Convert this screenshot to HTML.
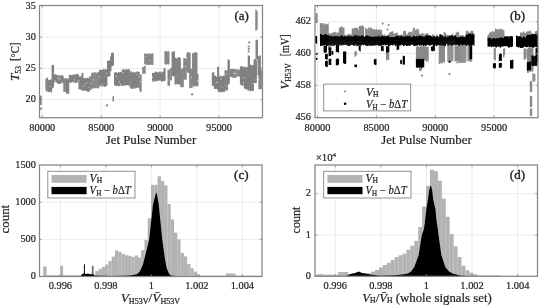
<!DOCTYPE html>
<html><head><meta charset="utf-8"><style>
html,body{margin:0;padding:0;background:#fff;}
svg{display:block;filter:blur(0.45px);}
text{font-family:"Liberation Serif",serif;fill:#222;stroke:#222;stroke-width:0.2px;}
</style></head><body>
<svg width="541" height="307" viewBox="0 0 541 307">
<rect width="541" height="307" fill="#fff"/>
<line x1="42.30" y1="5.50" x2="42.30" y2="117.70" stroke="#e6e6e6" stroke-width="0.8"/>
<line x1="101.25" y1="5.50" x2="101.25" y2="117.70" stroke="#e6e6e6" stroke-width="0.8"/>
<line x1="160.15" y1="5.50" x2="160.15" y2="117.70" stroke="#e6e6e6" stroke-width="0.8"/>
<line x1="219.00" y1="5.50" x2="219.00" y2="117.70" stroke="#e6e6e6" stroke-width="0.8"/>
<line x1="39.50" y1="37.20" x2="262.50" y2="37.20" stroke="#e6e6e6" stroke-width="0.8"/>
<line x1="39.50" y1="68.40" x2="262.50" y2="68.40" stroke="#e6e6e6" stroke-width="0.8"/>
<line x1="39.50" y1="99.60" x2="262.50" y2="99.60" stroke="#e6e6e6" stroke-width="0.8"/>
<rect x="39.60" y="95.58" width="1.45" height="9.29" fill="#808080"/>
<rect x="40.60" y="95.79" width="1.05" height="9.17" fill="#808080"/>
<rect x="45.40" y="78.60" width="1.45" height="11.80" fill="#808080"/>
<rect x="46.40" y="77.62" width="1.45" height="14.02" fill="#808080"/>
<rect x="47.40" y="78.01" width="0.75" height="12.66" fill="#808080"/>
<rect x="47.70" y="80.19" width="1.45" height="11.76" fill="#808080"/>
<rect x="48.70" y="79.94" width="1.45" height="12.02" fill="#808080"/>
<rect x="49.70" y="79.62" width="1.45" height="11.82" fill="#808080"/>
<rect x="50.70" y="79.62" width="1.35" height="12.97" fill="#808080"/>
<rect x="51.60" y="64.84" width="1.45" height="23.55" fill="#808080"/>
<rect x="52.60" y="65.07" width="1.45" height="22.23" fill="#808080"/>
<rect x="53.60" y="74.91" width="1.45" height="7.53" fill="#808080"/>
<rect x="54.60" y="74.18" width="1.45" height="7.37" fill="#808080"/>
<rect x="55.60" y="75.08" width="1.45" height="7.17" fill="#808080"/>
<rect x="56.60" y="74.85" width="1.35" height="8.06" fill="#808080"/>
<rect x="57.50" y="75.84" width="1.45" height="8.13" fill="#808080"/>
<rect x="58.50" y="75.33" width="1.45" height="8.45" fill="#808080"/>
<rect x="59.50" y="75.41" width="1.45" height="8.59" fill="#808080"/>
<rect x="60.50" y="76.11" width="1.45" height="6.55" fill="#808080"/>
<rect x="61.50" y="74.92" width="1.45" height="7.93" fill="#808080"/>
<rect x="62.50" y="76.24" width="1.25" height="6.95" fill="#808080"/>
<rect x="63.30" y="78.60" width="1.45" height="13.08" fill="#808080"/>
<rect x="64.30" y="78.41" width="1.45" height="13.41" fill="#808080"/>
<rect x="65.30" y="78.16" width="1.15" height="13.97" fill="#808080"/>
<rect x="66.00" y="78.53" width="1.45" height="15.11" fill="#808080"/>
<rect x="67.00" y="78.69" width="1.45" height="15.00" fill="#808080"/>
<rect x="68.00" y="78.97" width="1.25" height="14.82" fill="#808080"/>
<rect x="68.80" y="74.77" width="1.45" height="6.99" fill="#808080"/>
<rect x="69.80" y="75.08" width="1.45" height="7.97" fill="#808080"/>
<rect x="70.80" y="75.15" width="1.45" height="7.26" fill="#808080"/>
<rect x="71.80" y="74.84" width="1.45" height="7.00" fill="#808080"/>
<rect x="72.80" y="75.03" width="1.45" height="7.39" fill="#808080"/>
<rect x="73.80" y="74.16" width="1.45" height="7.45" fill="#808080"/>
<rect x="74.80" y="75.07" width="1.45" height="8.02" fill="#808080"/>
<rect x="75.80" y="73.84" width="1.45" height="8.94" fill="#808080"/>
<rect x="76.80" y="74.36" width="1.45" height="7.38" fill="#808080"/>
<rect x="77.80" y="74.17" width="1.15" height="8.56" fill="#808080"/>
<rect x="78.50" y="76.60" width="1.45" height="12.67" fill="#808080"/>
<rect x="79.50" y="76.18" width="1.45" height="13.09" fill="#808080"/>
<rect x="80.50" y="76.35" width="1.45" height="13.38" fill="#808080"/>
<rect x="81.50" y="73.21" width="1.45" height="17.56" fill="#808080"/>
<rect x="82.50" y="72.61" width="0.95" height="18.19" fill="#808080"/>
<rect x="83.00" y="78.10" width="1.45" height="12.33" fill="#808080"/>
<rect x="84.00" y="78.56" width="1.45" height="11.79" fill="#808080"/>
<rect x="85.00" y="77.92" width="1.45" height="13.04" fill="#808080"/>
<rect x="86.00" y="78.58" width="1.45" height="11.97" fill="#808080"/>
<rect x="87.00" y="77.67" width="1.45" height="14.02" fill="#808080"/>
<rect x="88.00" y="78.10" width="1.45" height="13.73" fill="#808080"/>
<rect x="89.00" y="79.03" width="0.75" height="11.87" fill="#808080"/>
<rect x="89.30" y="75.94" width="1.45" height="14.10" fill="#808080"/>
<rect x="90.30" y="76.23" width="1.35" height="13.92" fill="#808080"/>
<rect x="91.20" y="72.69" width="1.45" height="15.70" fill="#808080"/>
<rect x="92.20" y="73.30" width="1.45" height="14.91" fill="#808080"/>
<rect x="93.20" y="72.49" width="1.45" height="16.06" fill="#808080"/>
<rect x="94.20" y="72.18" width="1.45" height="15.70" fill="#808080"/>
<rect x="95.20" y="73.36" width="1.45" height="14.87" fill="#808080"/>
<rect x="96.20" y="72.68" width="1.45" height="14.74" fill="#808080"/>
<rect x="97.20" y="72.46" width="1.45" height="15.86" fill="#808080"/>
<rect x="98.20" y="71.83" width="1.25" height="16.55" fill="#808080"/>
<rect x="99.00" y="69.81" width="1.45" height="15.68" fill="#808080"/>
<rect x="100.00" y="69.80" width="1.45" height="16.34" fill="#808080"/>
<rect x="101.00" y="69.89" width="1.45" height="16.08" fill="#808080"/>
<rect x="102.00" y="69.93" width="1.45" height="16.65" fill="#808080"/>
<rect x="103.00" y="68.84" width="1.45" height="16.66" fill="#808080"/>
<rect x="104.00" y="69.88" width="1.45" height="17.06" fill="#808080"/>
<rect x="105.00" y="69.20" width="1.45" height="16.93" fill="#808080"/>
<rect x="106.00" y="69.75" width="1.45" height="16.16" fill="#808080"/>
<rect x="107.00" y="60.68" width="1.45" height="15.52" fill="#808080"/>
<rect x="108.00" y="60.69" width="1.45" height="15.96" fill="#808080"/>
<rect x="109.00" y="60.58" width="1.45" height="15.72" fill="#808080"/>
<rect x="110.00" y="56.44" width="1.45" height="14.81" fill="#808080"/>
<rect x="111.00" y="52.91" width="1.45" height="13.47" fill="#808080"/>
<rect x="112.00" y="52.50" width="1.45" height="13.06" fill="#808080"/>
<rect x="113.00" y="53.29" width="0.95" height="12.30" fill="#808080"/>
<rect x="112.50" y="96.30" width="1.45" height="5.20" fill="#808080"/>
<rect x="114.00" y="72.62" width="1.45" height="12.75" fill="#808080"/>
<rect x="115.00" y="72.02" width="1.45" height="13.72" fill="#808080"/>
<rect x="116.00" y="72.83" width="1.45" height="13.07" fill="#808080"/>
<rect x="117.00" y="72.87" width="1.45" height="12.60" fill="#808080"/>
<rect x="118.00" y="72.04" width="1.45" height="14.20" fill="#808080"/>
<rect x="119.00" y="72.92" width="1.45" height="13.01" fill="#808080"/>
<rect x="120.00" y="71.86" width="1.45" height="13.53" fill="#808080"/>
<rect x="121.00" y="72.35" width="1.15" height="13.16" fill="#808080"/>
<rect x="121.70" y="69.89" width="1.45" height="16.15" fill="#808080"/>
<rect x="122.70" y="68.89" width="1.45" height="16.25" fill="#808080"/>
<rect x="123.70" y="69.89" width="1.45" height="15.84" fill="#808080"/>
<rect x="124.70" y="69.89" width="1.45" height="15.36" fill="#808080"/>
<rect x="125.70" y="68.81" width="1.45" height="16.36" fill="#808080"/>
<rect x="126.70" y="69.87" width="1.45" height="15.26" fill="#808080"/>
<rect x="127.70" y="69.15" width="1.45" height="16.21" fill="#808080"/>
<rect x="128.70" y="69.27" width="1.25" height="16.08" fill="#808080"/>
<rect x="129.50" y="72.67" width="1.45" height="14.78" fill="#808080"/>
<rect x="130.50" y="71.21" width="1.45" height="17.50" fill="#808080"/>
<rect x="131.50" y="72.61" width="1.45" height="16.17" fill="#808080"/>
<rect x="132.50" y="71.89" width="1.45" height="16.83" fill="#808080"/>
<rect x="133.50" y="72.68" width="1.45" height="14.87" fill="#808080"/>
<rect x="134.50" y="72.39" width="1.45" height="16.15" fill="#808080"/>
<rect x="135.50" y="72.26" width="1.45" height="15.77" fill="#808080"/>
<rect x="136.50" y="71.66" width="1.45" height="16.08" fill="#808080"/>
<rect x="137.50" y="71.56" width="1.45" height="15.74" fill="#808080"/>
<rect x="138.50" y="72.14" width="1.25" height="15.52" fill="#808080"/>
<rect x="139.30" y="74.50" width="1.45" height="16.68" fill="#808080"/>
<rect x="140.30" y="74.65" width="1.35" height="17.56" fill="#808080"/>
<rect x="142.20" y="67.18" width="1.45" height="6.76" fill="#808080"/>
<rect x="143.20" y="67.14" width="1.45" height="6.28" fill="#808080"/>
<rect x="144.20" y="65.72" width="1.45" height="7.97" fill="#808080"/>
<rect x="144.20" y="53.27" width="1.45" height="10.90" fill="#808080"/>
<rect x="145.20" y="54.06" width="1.45" height="10.48" fill="#808080"/>
<rect x="146.20" y="53.66" width="1.45" height="11.54" fill="#808080"/>
<rect x="147.20" y="53.98" width="1.45" height="10.27" fill="#808080"/>
<rect x="148.20" y="53.40" width="1.45" height="11.67" fill="#808080"/>
<rect x="149.20" y="53.76" width="1.45" height="11.19" fill="#808080"/>
<rect x="150.20" y="53.56" width="1.45" height="10.45" fill="#808080"/>
<rect x="151.20" y="53.86" width="1.45" height="11.15" fill="#808080"/>
<rect x="152.20" y="53.27" width="1.25" height="11.69" fill="#808080"/>
<rect x="152.00" y="72.97" width="1.45" height="8.61" fill="#808080"/>
<rect x="153.00" y="72.82" width="1.45" height="7.49" fill="#808080"/>
<rect x="154.00" y="72.51" width="1.45" height="9.17" fill="#808080"/>
<rect x="155.00" y="71.58" width="1.45" height="9.15" fill="#808080"/>
<rect x="156.00" y="71.93" width="1.45" height="9.21" fill="#808080"/>
<rect x="157.00" y="72.18" width="1.45" height="8.88" fill="#808080"/>
<rect x="158.00" y="72.74" width="1.45" height="7.56" fill="#808080"/>
<rect x="159.00" y="71.59" width="1.45" height="8.92" fill="#808080"/>
<rect x="160.00" y="71.70" width="1.45" height="8.71" fill="#808080"/>
<rect x="161.00" y="73.06" width="1.45" height="8.61" fill="#808080"/>
<rect x="162.00" y="71.64" width="1.45" height="9.47" fill="#808080"/>
<rect x="163.00" y="72.01" width="0.95" height="8.80" fill="#808080"/>
<rect x="163.50" y="68.16" width="1.45" height="13.07" fill="#808080"/>
<rect x="164.50" y="68.54" width="1.15" height="12.24" fill="#808080"/>
<rect x="164.40" y="51.31" width="1.45" height="12.92" fill="#808080"/>
<rect x="165.40" y="51.20" width="1.45" height="13.39" fill="#808080"/>
<rect x="166.40" y="52.15" width="1.45" height="12.16" fill="#808080"/>
<rect x="167.40" y="51.13" width="1.45" height="12.86" fill="#808080"/>
<rect x="168.40" y="51.60" width="1.05" height="13.07" fill="#808080"/>
<rect x="167.50" y="69.85" width="1.45" height="15.66" fill="#808080"/>
<rect x="168.50" y="69.88" width="1.45" height="16.01" fill="#808080"/>
<rect x="169.50" y="69.29" width="0.55" height="16.21" fill="#808080"/>
<rect x="170.20" y="67.99" width="1.45" height="12.33" fill="#808080"/>
<rect x="171.20" y="67.87" width="0.65" height="12.44" fill="#808080"/>
<rect x="171.60" y="51.74" width="1.45" height="24.05" fill="#808080"/>
<rect x="172.60" y="51.86" width="1.45" height="24.65" fill="#808080"/>
<rect x="173.60" y="51.11" width="1.35" height="24.97" fill="#808080"/>
<rect x="174.50" y="57.58" width="1.45" height="27.03" fill="#808080"/>
<rect x="175.50" y="58.40" width="1.45" height="25.40" fill="#808080"/>
<rect x="176.50" y="58.34" width="1.45" height="26.13" fill="#808080"/>
<rect x="177.50" y="57.32" width="1.45" height="26.62" fill="#808080"/>
<rect x="178.50" y="57.10" width="1.45" height="27.40" fill="#808080"/>
<rect x="179.50" y="57.96" width="1.35" height="26.66" fill="#808080"/>
<rect x="180.40" y="68.87" width="1.45" height="18.40" fill="#808080"/>
<rect x="181.40" y="68.77" width="1.45" height="18.33" fill="#808080"/>
<rect x="182.40" y="67.77" width="1.35" height="19.38" fill="#808080"/>
<rect x="183.30" y="57.91" width="1.45" height="21.72" fill="#808080"/>
<rect x="184.30" y="59.14" width="1.45" height="20.33" fill="#808080"/>
<rect x="185.30" y="58.05" width="1.45" height="21.51" fill="#808080"/>
<rect x="186.30" y="53.41" width="1.45" height="18.38" fill="#808080"/>
<rect x="187.30" y="52.04" width="1.45" height="20.81" fill="#808080"/>
<rect x="188.30" y="52.19" width="1.45" height="20.66" fill="#808080"/>
<rect x="189.30" y="53.08" width="1.35" height="19.76" fill="#808080"/>
<rect x="189.20" y="69.12" width="1.45" height="19.00" fill="#808080"/>
<rect x="190.20" y="68.88" width="1.45" height="18.38" fill="#808080"/>
<rect x="191.20" y="68.83" width="1.35" height="19.19" fill="#808080"/>
<rect x="192.10" y="53.14" width="1.45" height="32.23" fill="#808080"/>
<rect x="193.10" y="53.20" width="1.45" height="33.50" fill="#808080"/>
<rect x="194.10" y="52.10" width="1.45" height="33.62" fill="#808080"/>
<rect x="195.10" y="52.90" width="1.45" height="33.62" fill="#808080"/>
<rect x="196.10" y="52.39" width="1.35" height="33.10" fill="#808080"/>
<rect x="197.00" y="73.90" width="1.45" height="12.29" fill="#808080"/>
<rect x="211.80" y="72.71" width="1.45" height="13.12" fill="#808080"/>
<rect x="212.80" y="72.09" width="1.45" height="13.75" fill="#808080"/>
<rect x="213.80" y="75.96" width="1.45" height="12.91" fill="#808080"/>
<rect x="214.80" y="75.53" width="1.45" height="13.47" fill="#808080"/>
<rect x="215.80" y="76.96" width="1.45" height="11.90" fill="#808080"/>
<rect x="216.80" y="76.60" width="1.35" height="11.86" fill="#808080"/>
<rect x="217.10" y="66.81" width="1.45" height="22.60" fill="#808080"/>
<rect x="218.10" y="66.78" width="1.05" height="22.25" fill="#808080"/>
<rect x="217.70" y="76.17" width="1.45" height="15.95" fill="#808080"/>
<rect x="218.70" y="76.84" width="1.45" height="14.50" fill="#808080"/>
<rect x="219.70" y="75.55" width="1.45" height="16.74" fill="#808080"/>
<rect x="220.70" y="76.87" width="1.45" height="15.06" fill="#808080"/>
<rect x="221.70" y="76.11" width="1.45" height="16.14" fill="#808080"/>
<rect x="222.70" y="75.70" width="1.45" height="15.83" fill="#808080"/>
<rect x="223.70" y="75.72" width="1.25" height="16.32" fill="#808080"/>
<rect x="224.50" y="70.10" width="1.45" height="19.47" fill="#808080"/>
<rect x="225.50" y="70.71" width="1.45" height="20.02" fill="#808080"/>
<rect x="226.50" y="70.07" width="1.45" height="20.26" fill="#808080"/>
<rect x="227.50" y="59.46" width="1.45" height="25.10" fill="#808080"/>
<rect x="228.50" y="59.74" width="1.35" height="23.89" fill="#808080"/>
<rect x="229.40" y="68.95" width="1.45" height="7.49" fill="#808080"/>
<rect x="230.40" y="69.37" width="1.45" height="7.65" fill="#808080"/>
<rect x="231.40" y="68.88" width="1.45" height="8.10" fill="#808080"/>
<rect x="232.40" y="69.12" width="1.45" height="8.52" fill="#808080"/>
<rect x="233.40" y="68.83" width="1.45" height="9.16" fill="#808080"/>
<rect x="234.40" y="69.37" width="1.45" height="7.99" fill="#808080"/>
<rect x="235.40" y="69.35" width="1.25" height="8.39" fill="#808080"/>
<rect x="236.20" y="69.81" width="1.45" height="6.38" fill="#808080"/>
<rect x="237.20" y="69.27" width="1.45" height="7.18" fill="#808080"/>
<rect x="238.20" y="69.87" width="1.45" height="6.07" fill="#808080"/>
<rect x="239.20" y="69.67" width="1.25" height="7.16" fill="#808080"/>
<rect x="239.90" y="66.45" width="1.45" height="18.12" fill="#808080"/>
<rect x="240.90" y="66.08" width="1.45" height="19.27" fill="#808080"/>
<rect x="241.90" y="66.78" width="1.45" height="18.95" fill="#808080"/>
<rect x="242.90" y="67.07" width="1.35" height="17.52" fill="#808080"/>
<rect x="243.80" y="66.80" width="1.45" height="21.61" fill="#808080"/>
<rect x="244.80" y="66.80" width="1.45" height="22.33" fill="#808080"/>
<rect x="245.80" y="67.87" width="1.45" height="21.57" fill="#808080"/>
<rect x="246.80" y="66.91" width="1.35" height="22.48" fill="#808080"/>
<rect x="247.70" y="55.30" width="1.45" height="35.38" fill="#808080"/>
<rect x="248.70" y="55.97" width="1.35" height="34.17" fill="#808080"/>
<rect x="249.60" y="64.75" width="1.45" height="26.59" fill="#808080"/>
<rect x="250.60" y="65.07" width="1.45" height="25.50" fill="#808080"/>
<rect x="251.60" y="65.53" width="1.45" height="25.55" fill="#808080"/>
<rect x="252.60" y="64.61" width="1.45" height="25.92" fill="#808080"/>
<rect x="253.60" y="59.40" width="1.45" height="23.58" fill="#808080"/>
<rect x="254.60" y="59.04" width="1.45" height="24.10" fill="#808080"/>
<rect x="255.60" y="60.23" width="1.35" height="22.60" fill="#808080"/>
<rect x="255.50" y="40.07" width="1.45" height="18.82" fill="#808080"/>
<rect x="256.50" y="39.64" width="1.45" height="20.13" fill="#808080"/>
<rect x="255.30" y="9.78" width="1.45" height="20.84" fill="#808080"/>
<rect x="256.30" y="11.05" width="1.35" height="18.30" fill="#808080"/>
<rect x="257.50" y="56.31" width="1.45" height="18.69" fill="#808080"/>
<rect x="258.50" y="56.04" width="1.45" height="19.58" fill="#808080"/>
<rect x="259.50" y="55.27" width="1.35" height="20.21" fill="#808080"/>
<rect x="258.40" y="69.55" width="1.45" height="19.74" fill="#808080"/>
<rect x="259.40" y="68.92" width="1.45" height="20.28" fill="#808080"/>
<rect x="260.40" y="70.04" width="1.45" height="19.04" fill="#808080"/>
<rect x="49.70" y="85.80" width="0.9" height="1.04" fill="#fff" opacity="0.75"/>
<rect x="51.60" y="72.63" width="0.9" height="0.66" fill="#fff" opacity="0.75"/>
<rect x="54.60" y="80.23" width="0.9" height="1.28" fill="#fff" opacity="0.75"/>
<rect x="57.50" y="77.56" width="0.9" height="0.97" fill="#fff" opacity="0.75"/>
<rect x="58.50" y="78.22" width="0.9" height="0.77" fill="#fff" opacity="0.75"/>
<rect x="59.50" y="79.26" width="0.9" height="0.91" fill="#fff" opacity="0.75"/>
<rect x="73.80" y="79.41" width="0.9" height="0.88" fill="#fff" opacity="0.75"/>
<rect x="78.50" y="80.10" width="0.9" height="1.24" fill="#fff" opacity="0.75"/>
<rect x="83.00" y="85.88" width="0.9" height="1.14" fill="#fff" opacity="0.75"/>
<rect x="85.00" y="83.29" width="0.9" height="1.27" fill="#fff" opacity="0.75"/>
<rect x="87.00" y="82.54" width="0.9" height="0.67" fill="#fff" opacity="0.75"/>
<rect x="88.00" y="87.33" width="0.9" height="0.72" fill="#fff" opacity="0.75"/>
<rect x="91.20" y="83.09" width="0.9" height="0.69" fill="#fff" opacity="0.75"/>
<rect x="93.20" y="79.48" width="0.9" height="0.75" fill="#fff" opacity="0.75"/>
<rect x="99.00" y="76.57" width="0.9" height="1.20" fill="#fff" opacity="0.75"/>
<rect x="101.00" y="84.07" width="0.9" height="0.75" fill="#fff" opacity="0.75"/>
<rect x="106.00" y="72.74" width="0.9" height="1.01" fill="#fff" opacity="0.75"/>
<rect x="116.00" y="75.80" width="0.9" height="1.24" fill="#fff" opacity="0.75"/>
<rect x="119.00" y="81.47" width="0.9" height="1.26" fill="#fff" opacity="0.75"/>
<rect x="120.00" y="83.52" width="0.9" height="1.22" fill="#fff" opacity="0.75"/>
<rect x="122.70" y="71.87" width="0.9" height="1.27" fill="#fff" opacity="0.75"/>
<rect x="129.50" y="82.64" width="0.9" height="0.65" fill="#fff" opacity="0.75"/>
<rect x="136.50" y="74.20" width="0.9" height="0.79" fill="#fff" opacity="0.75"/>
<rect x="138.50" y="76.12" width="0.9" height="0.86" fill="#fff" opacity="0.75"/>
<rect x="140.30" y="81.03" width="0.9" height="1.22" fill="#fff" opacity="0.75"/>
<rect x="145.20" y="56.04" width="0.9" height="0.61" fill="#fff" opacity="0.75"/>
<rect x="149.20" y="60.06" width="0.9" height="0.94" fill="#fff" opacity="0.75"/>
<rect x="152.00" y="76.92" width="0.9" height="1.12" fill="#fff" opacity="0.75"/>
<rect x="167.50" y="79.26" width="0.9" height="1.30" fill="#fff" opacity="0.75"/>
<rect x="176.50" y="76.43" width="0.9" height="0.62" fill="#fff" opacity="0.75"/>
<rect x="185.30" y="65.97" width="0.9" height="1.07" fill="#fff" opacity="0.75"/>
<rect x="186.30" y="57.43" width="0.9" height="1.23" fill="#fff" opacity="0.75"/>
<rect x="191.20" y="77.12" width="0.9" height="1.16" fill="#fff" opacity="0.75"/>
<rect x="197.00" y="80.12" width="0.9" height="1.19" fill="#fff" opacity="0.75"/>
<rect x="215.80" y="82.17" width="0.9" height="0.79" fill="#fff" opacity="0.75"/>
<rect x="216.80" y="81.84" width="0.9" height="1.04" fill="#fff" opacity="0.75"/>
<rect x="220.70" y="78.57" width="0.9" height="1.21" fill="#fff" opacity="0.75"/>
<rect x="221.70" y="86.49" width="0.9" height="1.00" fill="#fff" opacity="0.75"/>
<rect x="224.50" y="74.52" width="0.9" height="0.92" fill="#fff" opacity="0.75"/>
<rect x="225.50" y="85.34" width="0.9" height="0.77" fill="#fff" opacity="0.75"/>
<rect x="226.50" y="73.13" width="0.9" height="1.04" fill="#fff" opacity="0.75"/>
<rect x="233.40" y="73.21" width="0.9" height="0.73" fill="#fff" opacity="0.75"/>
<rect x="234.40" y="73.19" width="0.9" height="1.10" fill="#fff" opacity="0.75"/>
<rect x="235.40" y="72.43" width="0.9" height="0.84" fill="#fff" opacity="0.75"/>
<rect x="242.90" y="82.02" width="0.9" height="1.11" fill="#fff" opacity="0.75"/>
<rect x="243.80" y="77.24" width="0.9" height="1.04" fill="#fff" opacity="0.75"/>
<rect x="252.60" y="82.85" width="0.9" height="1.17" fill="#fff" opacity="0.75"/>
<rect x="255.60" y="79.05" width="0.9" height="1.29" fill="#fff" opacity="0.75"/>
<rect x="258.40" y="78.13" width="0.9" height="0.99" fill="#fff" opacity="0.75"/>
<circle cx="41.00" cy="108.70" r="1.1" fill="#808080"/>
<circle cx="106.90" cy="105.40" r="1.1" fill="#808080"/>
<circle cx="192.10" cy="94.40" r="1.1" fill="#808080"/>
<circle cx="248.70" cy="46.50" r="1.1" fill="#808080"/>
<circle cx="248.70" cy="49.00" r="1.1" fill="#808080"/>
<circle cx="248.70" cy="51.50" r="1.1" fill="#808080"/>
<circle cx="249.20" cy="42.50" r="1.1" fill="#808080"/>
<rect x="39.5" y="5.5" width="223.0" height="112.2" fill="none" stroke="#858585" stroke-width="1.25"/>
<line x1="42.30" y1="117.70" x2="42.30" y2="115.50" stroke="#858585" stroke-width="0.8"/>
<line x1="42.30" y1="5.50" x2="42.30" y2="7.70" stroke="#858585" stroke-width="0.8"/>
<line x1="101.25" y1="117.70" x2="101.25" y2="115.50" stroke="#858585" stroke-width="0.8"/>
<line x1="101.25" y1="5.50" x2="101.25" y2="7.70" stroke="#858585" stroke-width="0.8"/>
<line x1="160.15" y1="117.70" x2="160.15" y2="115.50" stroke="#858585" stroke-width="0.8"/>
<line x1="160.15" y1="5.50" x2="160.15" y2="7.70" stroke="#858585" stroke-width="0.8"/>
<line x1="219.00" y1="117.70" x2="219.00" y2="115.50" stroke="#858585" stroke-width="0.8"/>
<line x1="219.00" y1="5.50" x2="219.00" y2="7.70" stroke="#858585" stroke-width="0.8"/>
<line x1="39.50" y1="37.20" x2="41.70" y2="37.20" stroke="#858585" stroke-width="0.8"/>
<line x1="262.50" y1="37.20" x2="260.30" y2="37.20" stroke="#858585" stroke-width="0.8"/>
<line x1="39.50" y1="68.40" x2="41.70" y2="68.40" stroke="#858585" stroke-width="0.8"/>
<line x1="262.50" y1="68.40" x2="260.30" y2="68.40" stroke="#858585" stroke-width="0.8"/>
<line x1="39.50" y1="99.60" x2="41.70" y2="99.60" stroke="#858585" stroke-width="0.8"/>
<line x1="262.50" y1="99.60" x2="260.30" y2="99.60" stroke="#858585" stroke-width="0.8"/>
<text x="42.30" y="130.60" font-family="Liberation Serif" font-size="10.4" text-anchor="middle">80000</text>
<text x="101.25" y="130.60" font-family="Liberation Serif" font-size="10.4" text-anchor="middle">85000</text>
<text x="160.15" y="130.60" font-family="Liberation Serif" font-size="10.4" text-anchor="middle">90000</text>
<text x="219.00" y="130.60" font-family="Liberation Serif" font-size="10.4" text-anchor="middle">95000</text>
<text x="35.90" y="8.50" font-family="Liberation Serif" font-size="10.3" text-anchor="end">35</text>
<text x="35.90" y="39.70" font-family="Liberation Serif" font-size="10.3" text-anchor="end">30</text>
<text x="35.90" y="70.90" font-family="Liberation Serif" font-size="10.3" text-anchor="end">25</text>
<text x="35.90" y="102.10" font-family="Liberation Serif" font-size="10.3" text-anchor="end">20</text>
<text x="151.00" y="144.00" font-family="Liberation Serif" font-size="12.5" text-anchor="middle" textLength="90.4" lengthAdjust="spacingAndGlyphs">Jet Pulse Number</text>
<text x="241.65" y="20.10" font-family="Liberation Serif" font-size="13" text-anchor="middle" style="stroke-width:0.35px">(a)</text>
<text transform="translate(19.4,0) rotate(-90)" font-family="Liberation Serif" font-size="13.2" x="-80.9" y="0"><tspan font-style="italic">T</tspan><tspan font-size="7.5" dy="2">53</tspan></text>
<text transform="translate(19.4,0) rotate(-90)" font-family="Liberation Serif" font-size="13.2" x="-61" y="0" textLength="18.6" lengthAdjust="spacingAndGlyphs">[°C]</text>
<line x1="317.50" y1="5.50" x2="317.50" y2="117.70" stroke="#e6e6e6" stroke-width="0.8"/>
<line x1="376.40" y1="5.50" x2="376.40" y2="117.70" stroke="#e6e6e6" stroke-width="0.8"/>
<line x1="435.30" y1="5.50" x2="435.30" y2="117.70" stroke="#e6e6e6" stroke-width="0.8"/>
<line x1="494.10" y1="5.50" x2="494.10" y2="117.70" stroke="#e6e6e6" stroke-width="0.8"/>
<line x1="315.00" y1="21.70" x2="538.00" y2="21.70" stroke="#e6e6e6" stroke-width="0.8"/>
<line x1="315.00" y1="53.50" x2="538.00" y2="53.50" stroke="#e6e6e6" stroke-width="0.8"/>
<line x1="315.00" y1="85.30" x2="538.00" y2="85.30" stroke="#e6e6e6" stroke-width="0.8"/>
<rect x="319.80" y="23.06" width="1.45" height="18.13" fill="#8a8a8a"/>
<rect x="320.80" y="23.13" width="1.45" height="18.05" fill="#8a8a8a"/>
<rect x="321.80" y="23.35" width="1.45" height="17.56" fill="#8a8a8a"/>
<rect x="322.80" y="24.58" width="1.45" height="16.21" fill="#8a8a8a"/>
<rect x="323.80" y="23.30" width="1.45" height="17.71" fill="#8a8a8a"/>
<rect x="324.80" y="24.45" width="1.45" height="16.76" fill="#8a8a8a"/>
<rect x="325.80" y="24.38" width="1.45" height="16.89" fill="#8a8a8a"/>
<rect x="326.80" y="23.99" width="1.45" height="17.28" fill="#8a8a8a"/>
<rect x="327.80" y="23.17" width="0.85" height="17.66" fill="#8a8a8a"/>
<rect x="328.20" y="33.25" width="1.45" height="7.62" fill="#8a8a8a"/>
<rect x="329.20" y="33.66" width="1.45" height="7.43" fill="#8a8a8a"/>
<rect x="330.20" y="33.25" width="1.45" height="7.96" fill="#8a8a8a"/>
<rect x="331.20" y="33.32" width="1.45" height="7.57" fill="#8a8a8a"/>
<rect x="332.20" y="32.96" width="1.05" height="8.24" fill="#8a8a8a"/>
<rect x="332.80" y="32.20" width="1.45" height="8.62" fill="#8a8a8a"/>
<rect x="333.80" y="32.10" width="1.45" height="9.18" fill="#8a8a8a"/>
<rect x="334.80" y="31.45" width="0.75" height="9.60" fill="#8a8a8a"/>
<rect x="335.10" y="32.60" width="1.45" height="8.42" fill="#8a8a8a"/>
<rect x="336.10" y="33.21" width="1.45" height="7.86" fill="#8a8a8a"/>
<rect x="337.10" y="32.26" width="1.45" height="9.03" fill="#8a8a8a"/>
<rect x="338.10" y="33.23" width="1.15" height="7.71" fill="#8a8a8a"/>
<rect x="338.80" y="27.80" width="1.45" height="13.24" fill="#8a8a8a"/>
<rect x="339.80" y="27.18" width="1.45" height="13.93" fill="#8a8a8a"/>
<rect x="340.80" y="26.33" width="1.45" height="14.69" fill="#8a8a8a"/>
<rect x="341.80" y="27.03" width="1.45" height="14.25" fill="#8a8a8a"/>
<rect x="342.80" y="28.05" width="1.45" height="12.81" fill="#8a8a8a"/>
<rect x="343.80" y="27.15" width="0.55" height="13.63" fill="#8a8a8a"/>
<rect x="343.90" y="34.87" width="1.45" height="6.32" fill="#8a8a8a"/>
<rect x="344.90" y="35.80" width="1.45" height="5.18" fill="#8a8a8a"/>
<rect x="345.90" y="34.63" width="1.45" height="6.18" fill="#8a8a8a"/>
<rect x="346.90" y="35.24" width="1.45" height="6.02" fill="#8a8a8a"/>
<rect x="347.90" y="34.26" width="1.45" height="6.91" fill="#8a8a8a"/>
<rect x="348.90" y="34.05" width="1.45" height="6.77" fill="#8a8a8a"/>
<rect x="349.90" y="34.45" width="1.45" height="6.66" fill="#8a8a8a"/>
<rect x="350.90" y="34.64" width="1.25" height="6.27" fill="#8a8a8a"/>
<rect x="351.70" y="28.44" width="1.45" height="12.32" fill="#8a8a8a"/>
<rect x="352.70" y="28.66" width="1.45" height="12.11" fill="#8a8a8a"/>
<rect x="353.70" y="28.22" width="1.45" height="12.63" fill="#8a8a8a"/>
<rect x="354.70" y="27.60" width="1.45" height="13.42" fill="#8a8a8a"/>
<rect x="355.70" y="28.07" width="1.45" height="12.85" fill="#8a8a8a"/>
<rect x="356.70" y="28.03" width="1.45" height="12.99" fill="#8a8a8a"/>
<rect x="357.70" y="30.32" width="1.45" height="10.50" fill="#8a8a8a"/>
<rect x="358.70" y="26.16" width="1.45" height="14.92" fill="#8a8a8a"/>
<rect x="359.70" y="25.96" width="1.45" height="15.25" fill="#8a8a8a"/>
<rect x="360.70" y="26.12" width="1.45" height="15.09" fill="#8a8a8a"/>
<rect x="361.70" y="25.37" width="1.45" height="15.78" fill="#8a8a8a"/>
<rect x="362.70" y="26.52" width="1.45" height="14.72" fill="#8a8a8a"/>
<rect x="365.10" y="27.83" width="1.45" height="13.06" fill="#8a8a8a"/>
<rect x="366.10" y="29.05" width="1.45" height="11.79" fill="#8a8a8a"/>
<rect x="367.10" y="29.20" width="1.45" height="12.04" fill="#8a8a8a"/>
<rect x="368.10" y="27.47" width="1.45" height="13.38" fill="#8a8a8a"/>
<rect x="369.10" y="28.65" width="1.45" height="12.20" fill="#8a8a8a"/>
<rect x="370.10" y="27.39" width="1.45" height="13.81" fill="#8a8a8a"/>
<rect x="371.10" y="28.04" width="0.95" height="13.13" fill="#8a8a8a"/>
<rect x="371.60" y="28.85" width="1.45" height="12.09" fill="#8a8a8a"/>
<rect x="372.60" y="29.97" width="1.45" height="10.74" fill="#8a8a8a"/>
<rect x="373.60" y="29.00" width="1.45" height="12.11" fill="#8a8a8a"/>
<rect x="374.60" y="30.42" width="1.45" height="10.86" fill="#8a8a8a"/>
<rect x="375.60" y="28.83" width="1.45" height="12.17" fill="#8a8a8a"/>
<rect x="376.60" y="30.12" width="1.45" height="10.89" fill="#8a8a8a"/>
<rect x="377.60" y="29.97" width="0.85" height="10.84" fill="#8a8a8a"/>
<rect x="378.00" y="29.64" width="1.45" height="11.12" fill="#8a8a8a"/>
<rect x="379.00" y="29.57" width="1.45" height="11.46" fill="#8a8a8a"/>
<rect x="380.00" y="30.53" width="1.45" height="10.51" fill="#8a8a8a"/>
<rect x="381.00" y="29.79" width="1.15" height="11.02" fill="#8a8a8a"/>
<rect x="381.70" y="34.41" width="1.45" height="6.80" fill="#8a8a8a"/>
<rect x="382.70" y="35.98" width="1.45" height="5.28" fill="#8a8a8a"/>
<rect x="383.70" y="34.19" width="1.45" height="6.55" fill="#8a8a8a"/>
<rect x="384.70" y="35.90" width="1.45" height="5.07" fill="#8a8a8a"/>
<rect x="385.70" y="35.53" width="1.45" height="5.37" fill="#8a8a8a"/>
<rect x="386.70" y="34.93" width="1.45" height="6.08" fill="#8a8a8a"/>
<rect x="387.70" y="34.86" width="1.45" height="6.20" fill="#8a8a8a"/>
<rect x="388.70" y="34.03" width="0.75" height="7.09" fill="#8a8a8a"/>
<rect x="389.00" y="32.59" width="1.45" height="8.22" fill="#8a8a8a"/>
<rect x="390.00" y="31.81" width="1.45" height="9.34" fill="#8a8a8a"/>
<rect x="391.00" y="31.71" width="1.45" height="9.11" fill="#8a8a8a"/>
<rect x="392.00" y="31.23" width="1.25" height="9.78" fill="#8a8a8a"/>
<rect x="392.80" y="33.03" width="1.35" height="8.21" fill="#8a8a8a"/>
<rect x="393.70" y="33.40" width="1.45" height="7.72" fill="#8a8a8a"/>
<rect x="394.70" y="33.52" width="1.45" height="7.56" fill="#8a8a8a"/>
<rect x="395.70" y="32.61" width="1.45" height="8.45" fill="#8a8a8a"/>
<rect x="396.70" y="32.81" width="1.15" height="8.48" fill="#8a8a8a"/>
<rect x="397.40" y="35.11" width="1.45" height="5.75" fill="#8a8a8a"/>
<rect x="398.40" y="35.32" width="1.45" height="5.82" fill="#8a8a8a"/>
<rect x="399.40" y="35.06" width="1.45" height="6.13" fill="#8a8a8a"/>
<rect x="400.40" y="34.31" width="1.45" height="6.93" fill="#8a8a8a"/>
<rect x="401.40" y="35.26" width="1.45" height="5.86" fill="#8a8a8a"/>
<rect x="402.40" y="35.03" width="1.05" height="6.12" fill="#8a8a8a"/>
<rect x="403.00" y="31.21" width="1.45" height="9.92" fill="#8a8a8a"/>
<rect x="404.00" y="30.54" width="1.45" height="10.36" fill="#8a8a8a"/>
<rect x="405.00" y="31.34" width="1.15" height="9.37" fill="#8a8a8a"/>
<rect x="405.70" y="34.21" width="1.45" height="6.87" fill="#8a8a8a"/>
<rect x="406.70" y="34.75" width="1.35" height="6.09" fill="#8a8a8a"/>
<rect x="407.60" y="32.89" width="1.45" height="8.21" fill="#8a8a8a"/>
<rect x="408.60" y="31.68" width="1.45" height="9.42" fill="#8a8a8a"/>
<rect x="409.60" y="32.14" width="1.45" height="8.88" fill="#8a8a8a"/>
<rect x="410.60" y="31.78" width="1.15" height="9.52" fill="#8a8a8a"/>
<rect x="411.30" y="33.28" width="1.35" height="7.84" fill="#8a8a8a"/>
<rect x="412.20" y="30.32" width="1.45" height="10.96" fill="#8a8a8a"/>
<rect x="413.20" y="28.85" width="1.45" height="12.22" fill="#8a8a8a"/>
<rect x="414.20" y="30.28" width="1.45" height="10.58" fill="#8a8a8a"/>
<rect x="415.20" y="29.60" width="1.45" height="11.13" fill="#8a8a8a"/>
<rect x="416.20" y="29.19" width="1.45" height="11.73" fill="#8a8a8a"/>
<rect x="417.20" y="29.00" width="1.45" height="11.85" fill="#8a8a8a"/>
<rect x="418.20" y="30.61" width="0.95" height="10.42" fill="#8a8a8a"/>
<rect x="418.70" y="33.82" width="1.45" height="7.46" fill="#8a8a8a"/>
<rect x="419.70" y="33.94" width="1.45" height="7.36" fill="#8a8a8a"/>
<rect x="420.70" y="34.08" width="1.45" height="7.11" fill="#8a8a8a"/>
<rect x="421.70" y="32.95" width="1.45" height="8.11" fill="#8a8a8a"/>
<rect x="422.70" y="34.32" width="1.45" height="6.41" fill="#8a8a8a"/>
<rect x="423.70" y="34.66" width="1.45" height="6.14" fill="#8a8a8a"/>
<rect x="424.70" y="33.74" width="1.45" height="7.06" fill="#8a8a8a"/>
<rect x="425.70" y="33.79" width="1.45" height="7.28" fill="#8a8a8a"/>
<rect x="426.70" y="32.92" width="1.45" height="8.35" fill="#8a8a8a"/>
<rect x="427.70" y="33.64" width="0.75" height="7.37" fill="#8a8a8a"/>
<rect x="428.00" y="35.70" width="1.45" height="5.22" fill="#8a8a8a"/>
<rect x="429.00" y="35.07" width="1.45" height="6.02" fill="#8a8a8a"/>
<rect x="430.00" y="35.62" width="1.45" height="5.25" fill="#8a8a8a"/>
<rect x="431.00" y="35.93" width="1.45" height="4.94" fill="#8a8a8a"/>
<rect x="432.00" y="34.53" width="1.45" height="6.32" fill="#8a8a8a"/>
<rect x="433.00" y="34.59" width="1.45" height="6.21" fill="#8a8a8a"/>
<rect x="434.00" y="36.01" width="1.45" height="4.92" fill="#8a8a8a"/>
<rect x="435.00" y="36.30" width="1.45" height="4.85" fill="#8a8a8a"/>
<rect x="436.00" y="34.60" width="1.45" height="6.69" fill="#8a8a8a"/>
<rect x="437.00" y="36.39" width="1.45" height="4.36" fill="#8a8a8a"/>
<rect x="438.00" y="36.31" width="1.45" height="4.65" fill="#8a8a8a"/>
<rect x="439.00" y="35.46" width="1.45" height="5.83" fill="#8a8a8a"/>
<rect x="440.00" y="34.99" width="1.45" height="6.03" fill="#8a8a8a"/>
<rect x="441.00" y="36.37" width="1.45" height="4.76" fill="#8a8a8a"/>
<rect x="442.00" y="35.44" width="1.45" height="5.85" fill="#8a8a8a"/>
<rect x="443.00" y="36.13" width="1.05" height="4.93" fill="#8a8a8a"/>
<rect x="443.60" y="32.03" width="1.45" height="9.04" fill="#8a8a8a"/>
<rect x="444.60" y="32.71" width="1.25" height="8.11" fill="#8a8a8a"/>
<rect x="445.40" y="34.60" width="1.45" height="6.41" fill="#8a8a8a"/>
<rect x="446.40" y="34.75" width="1.45" height="6.22" fill="#8a8a8a"/>
<rect x="447.40" y="35.84" width="1.45" height="5.14" fill="#8a8a8a"/>
<rect x="448.40" y="35.02" width="1.45" height="6.03" fill="#8a8a8a"/>
<rect x="449.40" y="35.34" width="1.45" height="5.83" fill="#8a8a8a"/>
<rect x="450.40" y="35.56" width="1.45" height="5.74" fill="#8a8a8a"/>
<rect x="451.40" y="34.61" width="1.45" height="6.54" fill="#8a8a8a"/>
<rect x="452.40" y="33.18" width="0.85" height="7.59" fill="#8a8a8a"/>
<rect x="452.80" y="36.29" width="1.45" height="4.89" fill="#8a8a8a"/>
<rect x="453.80" y="35.75" width="1.45" height="5.17" fill="#8a8a8a"/>
<rect x="454.80" y="35.04" width="1.25" height="6.07" fill="#8a8a8a"/>
<rect x="455.60" y="32.43" width="1.45" height="8.63" fill="#8a8a8a"/>
<rect x="456.60" y="32.57" width="1.45" height="8.59" fill="#8a8a8a"/>
<rect x="457.60" y="31.68" width="1.45" height="9.17" fill="#8a8a8a"/>
<rect x="458.60" y="33.26" width="0.65" height="7.99" fill="#8a8a8a"/>
<rect x="458.80" y="36.76" width="1.45" height="3.97" fill="#8a8a8a"/>
<rect x="459.80" y="35.12" width="1.45" height="5.74" fill="#8a8a8a"/>
<rect x="460.80" y="35.85" width="1.45" height="5.22" fill="#8a8a8a"/>
<rect x="461.80" y="35.20" width="1.45" height="5.82" fill="#8a8a8a"/>
<rect x="462.80" y="35.14" width="1.45" height="5.61" fill="#8a8a8a"/>
<rect x="463.80" y="36.35" width="1.45" height="4.68" fill="#8a8a8a"/>
<rect x="464.80" y="36.26" width="1.35" height="4.66" fill="#8a8a8a"/>
<rect x="465.70" y="30.96" width="1.45" height="9.87" fill="#8a8a8a"/>
<rect x="466.70" y="30.69" width="1.45" height="10.46" fill="#8a8a8a"/>
<rect x="467.70" y="31.68" width="1.25" height="9.07" fill="#8a8a8a"/>
<rect x="468.50" y="32.74" width="1.45" height="8.45" fill="#8a8a8a"/>
<rect x="469.50" y="33.75" width="1.45" height="7.41" fill="#8a8a8a"/>
<rect x="470.50" y="30.83" width="1.45" height="10.13" fill="#8a8a8a"/>
<rect x="471.50" y="30.92" width="1.45" height="10.27" fill="#8a8a8a"/>
<rect x="472.50" y="31.14" width="0.95" height="9.95" fill="#8a8a8a"/>
<rect x="487.50" y="34.98" width="1.45" height="5.92" fill="#8a8a8a"/>
<rect x="488.50" y="34.10" width="0.95" height="7.05" fill="#8a8a8a"/>
<rect x="489.00" y="32.84" width="1.45" height="8.11" fill="#8a8a8a"/>
<rect x="490.00" y="31.74" width="1.45" height="9.02" fill="#8a8a8a"/>
<rect x="491.00" y="32.75" width="1.45" height="8.00" fill="#8a8a8a"/>
<rect x="492.00" y="31.17" width="1.45" height="9.87" fill="#8a8a8a"/>
<rect x="493.00" y="31.97" width="1.45" height="9.14" fill="#8a8a8a"/>
<rect x="494.00" y="31.60" width="1.45" height="9.57" fill="#8a8a8a"/>
<rect x="495.00" y="28.65" width="1.45" height="12.18" fill="#8a8a8a"/>
<rect x="496.00" y="29.82" width="1.45" height="10.92" fill="#8a8a8a"/>
<rect x="497.00" y="29.11" width="1.45" height="12.03" fill="#8a8a8a"/>
<rect x="498.00" y="29.89" width="1.45" height="10.98" fill="#8a8a8a"/>
<rect x="499.00" y="28.79" width="1.45" height="12.13" fill="#8a8a8a"/>
<rect x="500.00" y="29.95" width="1.45" height="10.97" fill="#8a8a8a"/>
<rect x="501.00" y="28.73" width="1.45" height="12.39" fill="#8a8a8a"/>
<rect x="502.00" y="29.64" width="1.45" height="11.61" fill="#8a8a8a"/>
<rect x="503.00" y="30.38" width="1.45" height="10.87" fill="#8a8a8a"/>
<rect x="504.00" y="36.38" width="1.45" height="4.81" fill="#8a8a8a"/>
<rect x="505.00" y="36.11" width="1.45" height="4.78" fill="#8a8a8a"/>
<rect x="506.00" y="36.30" width="1.45" height="4.96" fill="#8a8a8a"/>
<rect x="507.00" y="37.29" width="1.45" height="3.56" fill="#8a8a8a"/>
<rect x="508.00" y="36.22" width="1.45" height="4.70" fill="#8a8a8a"/>
<rect x="509.00" y="36.23" width="1.45" height="4.71" fill="#8a8a8a"/>
<rect x="510.00" y="36.28" width="1.45" height="4.54" fill="#8a8a8a"/>
<rect x="511.00" y="36.63" width="1.45" height="4.55" fill="#8a8a8a"/>
<rect x="516.00" y="36.58" width="1.45" height="4.62" fill="#8a8a8a"/>
<rect x="517.00" y="36.63" width="1.45" height="4.18" fill="#8a8a8a"/>
<rect x="518.00" y="37.02" width="1.45" height="4.21" fill="#8a8a8a"/>
<rect x="519.00" y="36.06" width="1.45" height="4.65" fill="#8a8a8a"/>
<rect x="520.00" y="32.53" width="1.45" height="8.50" fill="#8a8a8a"/>
<rect x="521.00" y="32.63" width="1.45" height="8.64" fill="#8a8a8a"/>
<rect x="522.00" y="32.80" width="1.45" height="8.38" fill="#8a8a8a"/>
<rect x="523.00" y="31.63" width="1.45" height="9.40" fill="#8a8a8a"/>
<rect x="524.00" y="33.08" width="1.45" height="7.67" fill="#8a8a8a"/>
<rect x="525.00" y="33.16" width="1.45" height="7.98" fill="#8a8a8a"/>
<rect x="526.00" y="31.80" width="1.45" height="8.95" fill="#8a8a8a"/>
<rect x="527.00" y="31.27" width="1.45" height="9.52" fill="#8a8a8a"/>
<rect x="528.00" y="31.49" width="1.45" height="9.60" fill="#8a8a8a"/>
<rect x="529.00" y="30.49" width="1.45" height="10.34" fill="#8a8a8a"/>
<rect x="530.00" y="31.53" width="1.45" height="9.48" fill="#8a8a8a"/>
<rect x="531.00" y="34.53" width="1.45" height="6.41" fill="#8a8a8a"/>
<rect x="532.00" y="33.68" width="1.45" height="7.61" fill="#8a8a8a"/>
<rect x="533.00" y="34.34" width="1.45" height="6.65" fill="#8a8a8a"/>
<rect x="534.00" y="34.07" width="1.15" height="7.06" fill="#8a8a8a"/>
<rect x="534.70" y="31.42" width="1.45" height="9.83" fill="#8a8a8a"/>
<rect x="535.70" y="30.82" width="1.45" height="10.37" fill="#8a8a8a"/>
<rect x="536.70" y="31.33" width="1.25" height="9.88" fill="#8a8a8a"/>
<rect x="315.30" y="13.11" width="1.45" height="9.83" fill="#8a8a8a"/>
<rect x="316.30" y="13.19" width="1.35" height="9.87" fill="#8a8a8a"/>
<rect x="327.90" y="44.22" width="1.45" height="5.85" fill="#8a8a8a"/>
<rect x="328.90" y="44.34" width="1.45" height="6.57" fill="#8a8a8a"/>
<rect x="329.90" y="43.87" width="1.35" height="5.89" fill="#8a8a8a"/>
<rect x="354.40" y="51.03" width="1.45" height="5.69" fill="#8a8a8a"/>
<rect x="355.40" y="52.39" width="1.45" height="3.24" fill="#8a8a8a"/>
<rect x="356.40" y="51.07" width="0.65" height="4.04" fill="#8a8a8a"/>
<rect x="386.00" y="45.88" width="1.45" height="14.50" fill="#8a8a8a"/>
<rect x="387.00" y="46.75" width="1.45" height="12.93" fill="#8a8a8a"/>
<rect x="388.00" y="45.69" width="1.25" height="14.15" fill="#8a8a8a"/>
<rect x="415.90" y="46.84" width="1.45" height="14.99" fill="#8a8a8a"/>
<rect x="416.90" y="46.09" width="1.45" height="13.60" fill="#8a8a8a"/>
<rect x="417.90" y="46.53" width="1.45" height="14.72" fill="#8a8a8a"/>
<rect x="418.90" y="47.25" width="1.45" height="12.35" fill="#8a8a8a"/>
<rect x="419.90" y="45.97" width="1.45" height="14.08" fill="#8a8a8a"/>
<rect x="420.90" y="46.15" width="1.45" height="14.06" fill="#8a8a8a"/>
<rect x="421.90" y="46.95" width="1.45" height="14.34" fill="#8a8a8a"/>
<rect x="422.90" y="46.16" width="1.45" height="13.90" fill="#8a8a8a"/>
<rect x="423.90" y="46.25" width="1.45" height="13.77" fill="#8a8a8a"/>
<rect x="424.90" y="47.01" width="1.45" height="13.42" fill="#8a8a8a"/>
<rect x="425.90" y="46.68" width="1.45" height="15.27" fill="#8a8a8a"/>
<rect x="426.90" y="46.57" width="1.45" height="13.71" fill="#8a8a8a"/>
<rect x="427.90" y="47.22" width="0.65" height="15.02" fill="#8a8a8a"/>
<rect x="419.00" y="59.75" width="1.45" height="11.39" fill="#8a8a8a"/>
<rect x="420.00" y="60.73" width="1.45" height="10.22" fill="#8a8a8a"/>
<rect x="421.00" y="59.55" width="1.45" height="10.10" fill="#8a8a8a"/>
<rect x="438.70" y="45.92" width="1.45" height="18.09" fill="#8a8a8a"/>
<rect x="439.70" y="45.02" width="1.45" height="18.17" fill="#8a8a8a"/>
<rect x="440.70" y="45.23" width="1.45" height="17.20" fill="#8a8a8a"/>
<rect x="441.70" y="45.98" width="1.45" height="17.59" fill="#8a8a8a"/>
<rect x="442.70" y="44.78" width="1.45" height="16.85" fill="#8a8a8a"/>
<rect x="443.70" y="45.16" width="1.25" height="17.56" fill="#8a8a8a"/>
<rect x="447.30" y="45.67" width="1.45" height="15.97" fill="#8a8a8a"/>
<rect x="448.30" y="45.37" width="1.45" height="14.60" fill="#8a8a8a"/>
<rect x="449.30" y="44.65" width="1.45" height="15.81" fill="#8a8a8a"/>
<rect x="450.30" y="44.82" width="1.45" height="17.29" fill="#8a8a8a"/>
<rect x="451.30" y="45.23" width="1.45" height="16.19" fill="#8a8a8a"/>
<rect x="452.30" y="45.99" width="1.15" height="14.31" fill="#8a8a8a"/>
<rect x="454.50" y="45.26" width="1.45" height="16.10" fill="#8a8a8a"/>
<rect x="455.50" y="45.63" width="1.45" height="15.27" fill="#8a8a8a"/>
<rect x="456.50" y="45.71" width="1.45" height="17.72" fill="#8a8a8a"/>
<rect x="457.50" y="45.72" width="1.45" height="15.43" fill="#8a8a8a"/>
<rect x="458.50" y="44.83" width="1.45" height="18.22" fill="#8a8a8a"/>
<rect x="459.50" y="44.56" width="1.15" height="17.78" fill="#8a8a8a"/>
<rect x="460.20" y="45.15" width="1.45" height="17.92" fill="#8a8a8a"/>
<rect x="461.20" y="45.34" width="1.45" height="17.43" fill="#8a8a8a"/>
<rect x="462.20" y="44.89" width="1.45" height="17.68" fill="#8a8a8a"/>
<rect x="463.20" y="45.07" width="1.45" height="17.88" fill="#8a8a8a"/>
<rect x="464.20" y="44.55" width="1.45" height="18.13" fill="#8a8a8a"/>
<rect x="465.20" y="44.73" width="1.25" height="17.10" fill="#8a8a8a"/>
<rect x="467.40" y="45.24" width="1.45" height="15.73" fill="#8a8a8a"/>
<rect x="468.40" y="45.73" width="1.45" height="15.70" fill="#8a8a8a"/>
<rect x="469.40" y="44.90" width="1.45" height="15.83" fill="#8a8a8a"/>
<rect x="470.40" y="44.89" width="1.45" height="17.01" fill="#8a8a8a"/>
<rect x="471.40" y="45.54" width="0.75" height="16.03" fill="#8a8a8a"/>
<rect x="493.70" y="48.30" width="1.45" height="11.22" fill="#8a8a8a"/>
<rect x="494.70" y="47.83" width="1.15" height="12.75" fill="#8a8a8a"/>
<rect x="503.00" y="48.75" width="1.45" height="8.64" fill="#8a8a8a"/>
<rect x="504.00" y="48.25" width="1.15" height="6.69" fill="#8a8a8a"/>
<rect x="523.60" y="48.60" width="1.45" height="11.03" fill="#8a8a8a"/>
<rect x="524.60" y="48.38" width="1.45" height="10.81" fill="#8a8a8a"/>
<rect x="525.60" y="48.73" width="1.05" height="8.80" fill="#8a8a8a"/>
<rect x="527.00" y="48.79" width="1.45" height="24.11" fill="#8a8a8a"/>
<rect x="528.00" y="47.53" width="1.45" height="24.82" fill="#8a8a8a"/>
<rect x="529.00" y="47.66" width="1.45" height="23.96" fill="#8a8a8a"/>
<rect x="530.00" y="48.06" width="1.45" height="23.33" fill="#8a8a8a"/>
<rect x="531.00" y="47.74" width="1.45" height="23.94" fill="#8a8a8a"/>
<rect x="532.00" y="48.27" width="1.45" height="23.00" fill="#8a8a8a"/>
<rect x="532.30" y="73.52" width="1.45" height="7.57" fill="#8a8a8a"/>
<rect x="533.30" y="73.73" width="1.45" height="8.01" fill="#8a8a8a"/>
<rect x="534.30" y="74.10" width="1.15" height="6.97" fill="#8a8a8a"/>
<rect x="529.80" y="81.20" width="1.45" height="11.00" fill="#8a8a8a"/>
<rect x="530.80" y="81.06" width="1.45" height="10.73" fill="#8a8a8a"/>
<rect x="529.80" y="95.76" width="1.45" height="11.35" fill="#8a8a8a"/>
<rect x="530.80" y="96.12" width="1.45" height="10.68" fill="#8a8a8a"/>
<rect x="529.80" y="108.44" width="1.45" height="7.76" fill="#8a8a8a"/>
<rect x="530.80" y="108.56" width="1.45" height="7.20" fill="#8a8a8a"/>
<circle cx="387.40" cy="29.50" r="1.1" fill="#8a8a8a"/>
<circle cx="413.80" cy="28.70" r="1.1" fill="#8a8a8a"/>
<circle cx="382.70" cy="23.60" r="1.1" fill="#8a8a8a"/>
<circle cx="388.60" cy="25.00" r="1.1" fill="#8a8a8a"/>
<circle cx="449.50" cy="74.20" r="1.1" fill="#8a8a8a"/>
<circle cx="422.00" cy="75.60" r="1.1" fill="#8a8a8a"/>
<circle cx="471.70" cy="31.90" r="1.1" fill="#8a8a8a"/>
<rect x="315.00" y="36.11" width="1.45" height="7.07" fill="#000"/>
<rect x="316.00" y="35.92" width="1.15" height="7.71" fill="#000"/>
<rect x="320.00" y="34.03" width="1.45" height="12.03" fill="#000"/>
<rect x="321.00" y="34.67" width="1.45" height="10.65" fill="#000"/>
<rect x="322.00" y="35.07" width="1.45" height="10.72" fill="#000"/>
<rect x="323.00" y="35.38" width="1.45" height="9.72" fill="#000"/>
<rect x="324.00" y="34.50" width="1.45" height="10.65" fill="#000"/>
<rect x="325.00" y="33.93" width="1.45" height="11.19" fill="#000"/>
<rect x="326.00" y="35.16" width="1.45" height="11.01" fill="#000"/>
<rect x="327.00" y="35.32" width="1.45" height="10.27" fill="#000"/>
<rect x="328.00" y="35.00" width="0.65" height="9.44" fill="#000"/>
<rect x="328.20" y="35.70" width="1.45" height="9.32" fill="#000"/>
<rect x="329.20" y="36.27" width="1.45" height="8.32" fill="#000"/>
<rect x="330.20" y="35.78" width="1.45" height="9.54" fill="#000"/>
<rect x="331.20" y="36.52" width="1.45" height="9.37" fill="#000"/>
<rect x="332.20" y="36.20" width="1.45" height="8.48" fill="#000"/>
<rect x="333.20" y="36.48" width="1.45" height="9.55" fill="#000"/>
<rect x="334.20" y="36.09" width="1.45" height="8.95" fill="#000"/>
<rect x="335.20" y="36.00" width="1.45" height="8.65" fill="#000"/>
<rect x="336.20" y="36.38" width="1.45" height="9.79" fill="#000"/>
<rect x="337.20" y="36.03" width="1.45" height="9.66" fill="#000"/>
<rect x="338.20" y="36.60" width="1.45" height="8.15" fill="#000"/>
<rect x="339.20" y="36.80" width="1.45" height="8.73" fill="#000"/>
<rect x="340.20" y="35.46" width="1.45" height="9.09" fill="#000"/>
<rect x="341.20" y="35.54" width="1.45" height="9.90" fill="#000"/>
<rect x="342.20" y="36.35" width="1.45" height="8.64" fill="#000"/>
<rect x="343.20" y="36.77" width="1.45" height="8.28" fill="#000"/>
<rect x="344.20" y="35.93" width="1.45" height="8.69" fill="#000"/>
<rect x="345.20" y="36.85" width="1.45" height="7.79" fill="#000"/>
<rect x="346.20" y="36.73" width="1.45" height="8.65" fill="#000"/>
<rect x="347.20" y="36.11" width="1.45" height="9.30" fill="#000"/>
<rect x="348.20" y="35.58" width="1.45" height="10.46" fill="#000"/>
<rect x="349.20" y="36.89" width="1.45" height="8.99" fill="#000"/>
<rect x="350.20" y="36.18" width="1.45" height="8.44" fill="#000"/>
<rect x="351.20" y="36.58" width="1.45" height="8.34" fill="#000"/>
<rect x="352.20" y="36.71" width="1.45" height="8.12" fill="#000"/>
<rect x="353.20" y="36.13" width="1.45" height="9.76" fill="#000"/>
<rect x="354.20" y="35.43" width="1.45" height="9.95" fill="#000"/>
<rect x="355.20" y="35.24" width="1.45" height="9.22" fill="#000"/>
<rect x="356.20" y="35.42" width="1.45" height="10.75" fill="#000"/>
<rect x="357.20" y="36.79" width="1.45" height="8.79" fill="#000"/>
<rect x="358.20" y="35.65" width="1.45" height="9.95" fill="#000"/>
<rect x="359.20" y="36.43" width="1.45" height="8.66" fill="#000"/>
<rect x="360.20" y="36.17" width="1.45" height="9.68" fill="#000"/>
<rect x="361.20" y="35.13" width="1.45" height="9.63" fill="#000"/>
<rect x="362.20" y="35.94" width="1.45" height="8.71" fill="#000"/>
<rect x="363.20" y="35.80" width="0.95" height="9.63" fill="#000"/>
<rect x="363.70" y="36.91" width="1.45" height="7.62" fill="#000"/>
<rect x="364.70" y="37.07" width="0.85" height="7.55" fill="#000"/>
<rect x="365.10" y="36.00" width="1.45" height="9.56" fill="#000"/>
<rect x="366.10" y="35.47" width="1.45" height="10.14" fill="#000"/>
<rect x="367.10" y="35.66" width="1.45" height="10.47" fill="#000"/>
<rect x="368.10" y="36.48" width="1.45" height="8.77" fill="#000"/>
<rect x="369.10" y="36.14" width="1.45" height="9.38" fill="#000"/>
<rect x="370.10" y="36.64" width="1.45" height="9.12" fill="#000"/>
<rect x="371.10" y="36.75" width="1.45" height="8.52" fill="#000"/>
<rect x="372.10" y="37.19" width="1.45" height="8.72" fill="#000"/>
<rect x="373.10" y="36.94" width="1.45" height="8.20" fill="#000"/>
<rect x="374.10" y="36.18" width="1.45" height="9.24" fill="#000"/>
<rect x="375.10" y="37.03" width="1.45" height="8.32" fill="#000"/>
<rect x="376.10" y="36.35" width="1.45" height="8.83" fill="#000"/>
<rect x="377.10" y="37.03" width="1.45" height="7.95" fill="#000"/>
<rect x="378.10" y="35.50" width="1.45" height="10.21" fill="#000"/>
<rect x="379.10" y="37.02" width="1.35" height="8.70" fill="#000"/>
<rect x="380.00" y="36.68" width="1.45" height="9.08" fill="#000"/>
<rect x="381.00" y="36.15" width="1.45" height="9.32" fill="#000"/>
<rect x="382.00" y="35.73" width="1.45" height="8.90" fill="#000"/>
<rect x="383.00" y="36.40" width="1.45" height="8.90" fill="#000"/>
<rect x="384.00" y="36.31" width="1.45" height="8.18" fill="#000"/>
<rect x="385.00" y="36.85" width="1.45" height="8.50" fill="#000"/>
<rect x="386.00" y="36.03" width="1.45" height="8.92" fill="#000"/>
<rect x="387.00" y="36.31" width="1.45" height="8.51" fill="#000"/>
<rect x="388.00" y="35.72" width="1.45" height="10.32" fill="#000"/>
<rect x="389.00" y="37.34" width="1.45" height="8.26" fill="#000"/>
<rect x="390.00" y="37.16" width="1.45" height="8.00" fill="#000"/>
<rect x="391.00" y="37.05" width="1.45" height="7.75" fill="#000"/>
<rect x="392.00" y="36.94" width="1.45" height="8.48" fill="#000"/>
<rect x="393.00" y="37.23" width="1.45" height="7.35" fill="#000"/>
<rect x="394.00" y="37.03" width="1.45" height="7.60" fill="#000"/>
<rect x="395.00" y="36.57" width="1.45" height="9.54" fill="#000"/>
<rect x="396.00" y="35.60" width="1.45" height="9.24" fill="#000"/>
<rect x="397.00" y="36.14" width="1.45" height="8.85" fill="#000"/>
<rect x="398.00" y="35.71" width="1.45" height="10.30" fill="#000"/>
<rect x="399.00" y="37.07" width="1.45" height="8.05" fill="#000"/>
<rect x="400.00" y="36.24" width="1.45" height="9.21" fill="#000"/>
<rect x="401.00" y="35.68" width="1.45" height="8.77" fill="#000"/>
<rect x="402.00" y="37.22" width="1.45" height="7.74" fill="#000"/>
<rect x="403.00" y="36.50" width="1.45" height="9.58" fill="#000"/>
<rect x="404.00" y="37.36" width="1.45" height="7.89" fill="#000"/>
<rect x="405.00" y="35.97" width="1.45" height="8.96" fill="#000"/>
<rect x="406.00" y="37.26" width="1.45" height="8.75" fill="#000"/>
<rect x="407.00" y="35.95" width="1.45" height="9.96" fill="#000"/>
<rect x="408.00" y="36.24" width="1.45" height="9.01" fill="#000"/>
<rect x="409.00" y="35.91" width="1.45" height="10.07" fill="#000"/>
<rect x="410.00" y="37.39" width="1.45" height="7.37" fill="#000"/>
<rect x="411.00" y="36.74" width="1.45" height="8.01" fill="#000"/>
<rect x="412.00" y="37.18" width="1.45" height="7.31" fill="#000"/>
<rect x="413.00" y="35.79" width="1.45" height="9.92" fill="#000"/>
<rect x="414.00" y="36.16" width="1.45" height="9.86" fill="#000"/>
<rect x="415.00" y="37.17" width="1.45" height="8.52" fill="#000"/>
<rect x="416.00" y="35.84" width="1.45" height="9.81" fill="#000"/>
<rect x="417.00" y="37.29" width="1.45" height="7.91" fill="#000"/>
<rect x="418.00" y="35.74" width="1.45" height="9.06" fill="#000"/>
<rect x="419.00" y="36.15" width="1.45" height="9.53" fill="#000"/>
<rect x="420.00" y="35.95" width="1.45" height="8.77" fill="#000"/>
<rect x="421.00" y="36.02" width="1.45" height="9.57" fill="#000"/>
<rect x="422.00" y="37.02" width="1.45" height="8.05" fill="#000"/>
<rect x="423.00" y="36.79" width="1.45" height="9.20" fill="#000"/>
<rect x="424.00" y="36.66" width="1.45" height="8.15" fill="#000"/>
<rect x="425.00" y="36.14" width="1.45" height="9.93" fill="#000"/>
<rect x="426.00" y="35.40" width="1.45" height="9.50" fill="#000"/>
<rect x="427.00" y="35.35" width="1.45" height="9.21" fill="#000"/>
<rect x="428.00" y="35.97" width="1.45" height="9.22" fill="#000"/>
<rect x="429.00" y="35.15" width="1.15" height="10.20" fill="#000"/>
<rect x="429.70" y="35.98" width="1.45" height="9.50" fill="#000"/>
<rect x="430.70" y="36.41" width="1.45" height="8.44" fill="#000"/>
<rect x="431.70" y="37.35" width="1.45" height="7.21" fill="#000"/>
<rect x="432.70" y="36.41" width="1.45" height="9.35" fill="#000"/>
<rect x="433.70" y="36.34" width="1.45" height="8.56" fill="#000"/>
<rect x="434.70" y="36.89" width="1.45" height="7.85" fill="#000"/>
<rect x="435.70" y="37.51" width="1.45" height="8.66" fill="#000"/>
<rect x="436.70" y="35.96" width="1.45" height="9.27" fill="#000"/>
<rect x="437.70" y="37.25" width="1.45" height="7.84" fill="#000"/>
<rect x="438.70" y="37.57" width="1.15" height="7.73" fill="#000"/>
<rect x="439.40" y="34.02" width="1.45" height="11.38" fill="#000"/>
<rect x="440.40" y="34.86" width="1.45" height="10.19" fill="#000"/>
<rect x="441.40" y="34.88" width="1.25" height="10.92" fill="#000"/>
<rect x="442.20" y="36.53" width="1.45" height="8.78" fill="#000"/>
<rect x="443.20" y="37.12" width="1.45" height="8.51" fill="#000"/>
<rect x="444.20" y="36.54" width="1.45" height="9.58" fill="#000"/>
<rect x="445.20" y="35.91" width="0.65" height="9.89" fill="#000"/>
<rect x="445.40" y="37.40" width="1.45" height="6.80" fill="#000"/>
<rect x="446.40" y="37.52" width="1.35" height="6.37" fill="#000"/>
<rect x="447.30" y="36.29" width="1.45" height="9.52" fill="#000"/>
<rect x="448.30" y="36.32" width="1.45" height="8.50" fill="#000"/>
<rect x="449.30" y="35.78" width="1.45" height="9.02" fill="#000"/>
<rect x="450.30" y="35.94" width="1.45" height="9.35" fill="#000"/>
<rect x="451.30" y="34.96" width="1.45" height="10.51" fill="#000"/>
<rect x="452.30" y="36.19" width="1.45" height="9.24" fill="#000"/>
<rect x="453.30" y="36.47" width="1.45" height="8.25" fill="#000"/>
<rect x="454.30" y="35.17" width="1.45" height="9.26" fill="#000"/>
<rect x="455.30" y="35.79" width="0.75" height="9.39" fill="#000"/>
<rect x="455.60" y="36.90" width="1.45" height="7.98" fill="#000"/>
<rect x="456.60" y="37.54" width="1.45" height="6.99" fill="#000"/>
<rect x="457.60" y="37.73" width="1.45" height="7.69" fill="#000"/>
<rect x="458.60" y="37.08" width="1.45" height="8.75" fill="#000"/>
<rect x="459.60" y="36.53" width="1.45" height="8.13" fill="#000"/>
<rect x="460.60" y="36.66" width="1.45" height="7.82" fill="#000"/>
<rect x="461.60" y="36.67" width="1.45" height="8.85" fill="#000"/>
<rect x="462.60" y="37.05" width="1.45" height="7.83" fill="#000"/>
<rect x="463.60" y="37.16" width="1.45" height="7.40" fill="#000"/>
<rect x="464.60" y="37.58" width="1.45" height="7.13" fill="#000"/>
<rect x="465.60" y="36.56" width="0.55" height="8.13" fill="#000"/>
<rect x="465.70" y="34.54" width="1.45" height="11.35" fill="#000"/>
<rect x="466.70" y="34.72" width="1.45" height="9.79" fill="#000"/>
<rect x="467.70" y="34.04" width="1.45" height="11.02" fill="#000"/>
<rect x="468.70" y="33.69" width="1.45" height="12.46" fill="#000"/>
<rect x="469.70" y="33.38" width="1.45" height="11.91" fill="#000"/>
<rect x="470.70" y="34.67" width="1.45" height="11.50" fill="#000"/>
<rect x="471.70" y="33.56" width="1.45" height="11.66" fill="#000"/>
<rect x="472.70" y="34.64" width="1.45" height="9.83" fill="#000"/>
<rect x="473.70" y="33.73" width="0.75" height="12.27" fill="#000"/>
<rect x="487.50" y="37.85" width="1.45" height="8.65" fill="#000"/>
<rect x="488.50" y="38.14" width="1.45" height="8.43" fill="#000"/>
<rect x="489.50" y="37.74" width="1.45" height="8.12" fill="#000"/>
<rect x="490.50" y="39.39" width="1.45" height="7.78" fill="#000"/>
<rect x="491.50" y="38.92" width="1.45" height="7.29" fill="#000"/>
<rect x="492.50" y="38.06" width="1.45" height="8.74" fill="#000"/>
<rect x="493.50" y="38.04" width="1.45" height="8.60" fill="#000"/>
<rect x="494.50" y="39.28" width="1.45" height="7.18" fill="#000"/>
<rect x="495.50" y="38.21" width="1.45" height="9.36" fill="#000"/>
<rect x="496.50" y="38.70" width="1.45" height="7.17" fill="#000"/>
<rect x="497.50" y="38.33" width="1.45" height="8.64" fill="#000"/>
<rect x="498.50" y="37.71" width="1.45" height="8.71" fill="#000"/>
<rect x="499.50" y="38.85" width="0.95" height="8.51" fill="#000"/>
<rect x="500.00" y="37.66" width="1.45" height="9.73" fill="#000"/>
<rect x="501.00" y="37.43" width="1.45" height="9.07" fill="#000"/>
<rect x="502.00" y="38.12" width="1.45" height="8.37" fill="#000"/>
<rect x="503.00" y="38.01" width="1.45" height="8.18" fill="#000"/>
<rect x="504.00" y="36.53" width="1.45" height="9.61" fill="#000"/>
<rect x="505.00" y="36.89" width="1.45" height="9.21" fill="#000"/>
<rect x="506.00" y="36.27" width="1.45" height="9.92" fill="#000"/>
<rect x="507.00" y="36.74" width="1.45" height="9.61" fill="#000"/>
<rect x="508.00" y="36.70" width="1.45" height="10.88" fill="#000"/>
<rect x="509.00" y="37.12" width="1.45" height="10.23" fill="#000"/>
<rect x="510.00" y="36.27" width="1.45" height="10.22" fill="#000"/>
<rect x="511.00" y="36.03" width="1.45" height="11.01" fill="#000"/>
<rect x="512.00" y="36.55" width="0.95" height="9.74" fill="#000"/>
<rect x="516.00" y="35.63" width="1.45" height="10.99" fill="#000"/>
<rect x="517.00" y="36.07" width="1.45" height="10.94" fill="#000"/>
<rect x="518.00" y="37.26" width="1.45" height="10.32" fill="#000"/>
<rect x="519.00" y="36.08" width="1.45" height="10.87" fill="#000"/>
<rect x="520.00" y="36.88" width="1.45" height="11.11" fill="#000"/>
<rect x="521.00" y="37.25" width="1.45" height="10.43" fill="#000"/>
<rect x="522.00" y="37.90" width="1.45" height="10.03" fill="#000"/>
<rect x="523.00" y="36.64" width="1.45" height="10.24" fill="#000"/>
<rect x="524.00" y="37.29" width="1.45" height="9.16" fill="#000"/>
<rect x="525.00" y="38.19" width="1.45" height="8.70" fill="#000"/>
<rect x="526.00" y="35.99" width="1.45" height="11.25" fill="#000"/>
<rect x="527.00" y="34.70" width="1.45" height="12.31" fill="#000"/>
<rect x="528.00" y="35.03" width="1.45" height="11.34" fill="#000"/>
<rect x="529.00" y="34.87" width="1.45" height="12.50" fill="#000"/>
<rect x="530.00" y="34.66" width="1.45" height="12.20" fill="#000"/>
<rect x="531.00" y="34.36" width="1.45" height="12.92" fill="#000"/>
<rect x="532.00" y="33.84" width="1.45" height="13.73" fill="#000"/>
<rect x="533.00" y="34.07" width="1.45" height="13.54" fill="#000"/>
<rect x="534.00" y="34.80" width="1.45" height="11.77" fill="#000"/>
<rect x="535.00" y="33.97" width="1.45" height="12.84" fill="#000"/>
<rect x="536.00" y="34.88" width="1.45" height="12.15" fill="#000"/>
<rect x="537.00" y="34.30" width="0.95" height="13.56" fill="#000"/>
<rect x="323.60" y="45.67" width="1.45" height="7.08" fill="#000"/>
<rect x="324.60" y="45.81" width="1.45" height="6.84" fill="#000"/>
<rect x="325.60" y="45.45" width="1.35" height="6.98" fill="#000"/>
<rect x="325.00" y="53.96" width="1.45" height="5.12" fill="#000"/>
<rect x="326.00" y="54.17" width="1.45" height="5.40" fill="#000"/>
<rect x="327.00" y="53.56" width="0.65" height="5.65" fill="#000"/>
<rect x="325.00" y="61.00" width="1.45" height="5.36" fill="#000"/>
<rect x="326.00" y="60.73" width="1.45" height="6.17" fill="#000"/>
<rect x="327.00" y="61.05" width="0.65" height="6.10" fill="#000"/>
<rect x="328.60" y="47.68" width="1.45" height="8.48" fill="#000"/>
<rect x="329.60" y="47.51" width="1.45" height="8.41" fill="#000"/>
<rect x="330.60" y="47.87" width="0.65" height="7.60" fill="#000"/>
<rect x="328.60" y="58.86" width="1.45" height="6.13" fill="#000"/>
<rect x="329.60" y="59.00" width="1.45" height="5.94" fill="#000"/>
<rect x="330.60" y="58.59" width="0.65" height="6.49" fill="#000"/>
<rect x="331.50" y="50.97" width="1.45" height="3.63" fill="#000"/>
<rect x="332.50" y="51.20" width="0.85" height="3.49" fill="#000"/>
<rect x="335.80" y="44.71" width="1.45" height="7.40" fill="#000"/>
<rect x="336.80" y="45.11" width="1.45" height="6.77" fill="#000"/>
<rect x="337.80" y="45.30" width="1.25" height="7.24" fill="#000"/>
<rect x="335.80" y="59.06" width="1.45" height="6.38" fill="#000"/>
<rect x="336.80" y="58.43" width="1.45" height="6.64" fill="#000"/>
<rect x="337.80" y="58.84" width="1.25" height="5.84" fill="#000"/>
<rect x="343.00" y="51.49" width="1.45" height="11.78" fill="#000"/>
<rect x="344.00" y="51.59" width="1.45" height="12.31" fill="#000"/>
<rect x="345.00" y="51.56" width="1.25" height="12.03" fill="#000"/>
<rect x="358.70" y="45.70" width="1.45" height="4.72" fill="#000"/>
<rect x="359.70" y="45.82" width="0.95" height="5.65" fill="#000"/>
<rect x="354.40" y="64.58" width="1.45" height="2.54" fill="#000"/>
<rect x="355.40" y="64.70" width="1.45" height="2.32" fill="#000"/>
<rect x="356.40" y="64.46" width="0.65" height="3.08" fill="#000"/>
<rect x="373.80" y="59.35" width="1.45" height="4.99" fill="#000"/>
<rect x="374.80" y="58.89" width="1.45" height="6.14" fill="#000"/>
<rect x="375.80" y="59.13" width="0.55" height="5.53" fill="#000"/>
<rect x="380.90" y="46.14" width="1.45" height="4.75" fill="#000"/>
<rect x="381.90" y="45.90" width="1.45" height="4.83" fill="#000"/>
<rect x="382.90" y="46.40" width="0.65" height="5.06" fill="#000"/>
<rect x="386.00" y="46.46" width="1.45" height="6.33" fill="#000"/>
<rect x="387.00" y="46.05" width="1.45" height="5.82" fill="#000"/>
<rect x="388.00" y="46.61" width="1.25" height="5.46" fill="#000"/>
<rect x="396.60" y="45.03" width="1.45" height="5.04" fill="#000"/>
<rect x="397.60" y="44.78" width="1.45" height="4.35" fill="#000"/>
<rect x="398.60" y="44.87" width="0.55" height="4.84" fill="#000"/>
<rect x="400.20" y="59.88" width="1.45" height="4.02" fill="#000"/>
<rect x="401.20" y="60.25" width="0.85" height="4.12" fill="#000"/>
<rect x="402.70" y="55.69" width="1.45" height="8.81" fill="#000"/>
<rect x="403.70" y="56.18" width="1.25" height="8.38" fill="#000"/>
<rect x="415.90" y="58.95" width="1.45" height="8.52" fill="#000"/>
<rect x="416.90" y="59.20" width="1.45" height="8.77" fill="#000"/>
<rect x="417.90" y="58.60" width="1.45" height="8.62" fill="#000"/>
<rect x="418.90" y="59.26" width="1.45" height="7.91" fill="#000"/>
<rect x="419.90" y="59.06" width="1.45" height="8.58" fill="#000"/>
<rect x="420.90" y="59.02" width="1.45" height="8.93" fill="#000"/>
<rect x="421.90" y="59.19" width="1.45" height="7.80" fill="#000"/>
<rect x="422.90" y="58.95" width="1.35" height="8.44" fill="#000"/>
<rect x="431.00" y="46.68" width="1.45" height="4.17" fill="#000"/>
<rect x="432.00" y="46.34" width="1.45" height="4.96" fill="#000"/>
<rect x="433.00" y="45.04" width="1.45" height="5.64" fill="#000"/>
<rect x="434.00" y="44.70" width="0.85" height="6.09" fill="#000"/>
<rect x="469.50" y="46.21" width="1.45" height="13.30" fill="#000"/>
<rect x="470.50" y="46.15" width="1.45" height="12.82" fill="#000"/>
<rect x="471.50" y="46.08" width="0.65" height="12.94" fill="#000"/>
<rect x="492.90" y="63.45" width="1.45" height="4.39" fill="#000"/>
<rect x="493.90" y="63.14" width="1.45" height="5.48" fill="#000"/>
<rect x="494.90" y="63.18" width="0.95" height="4.72" fill="#000"/>
<rect x="498.80" y="54.44" width="1.45" height="6.70" fill="#000"/>
<rect x="499.80" y="53.46" width="1.45" height="6.94" fill="#000"/>
<rect x="500.80" y="54.01" width="1.05" height="7.05" fill="#000"/>
<rect x="498.80" y="63.07" width="1.45" height="4.69" fill="#000"/>
<rect x="499.80" y="62.90" width="1.45" height="4.86" fill="#000"/>
<rect x="500.80" y="62.99" width="1.05" height="4.31" fill="#000"/>
<rect x="510.00" y="60.11" width="1.45" height="8.60" fill="#000"/>
<rect x="511.00" y="60.19" width="1.45" height="8.19" fill="#000"/>
<rect x="512.00" y="59.70" width="1.35" height="8.84" fill="#000"/>
<rect x="526.80" y="62.05" width="1.45" height="8.55" fill="#000"/>
<rect x="527.80" y="62.26" width="1.45" height="7.49" fill="#000"/>
<rect x="528.80" y="61.75" width="1.45" height="8.65" fill="#000"/>
<rect x="529.80" y="61.58" width="1.15" height="8.24" fill="#000"/>
<rect x="531.40" y="55.42" width="1.45" height="10.29" fill="#000"/>
<rect x="532.40" y="56.53" width="1.45" height="9.64" fill="#000"/>
<rect x="533.40" y="55.56" width="1.45" height="10.26" fill="#000"/>
<rect x="534.40" y="55.90" width="1.45" height="9.85" fill="#000"/>
<rect x="535.40" y="55.88" width="1.45" height="10.24" fill="#000"/>
<rect x="536.40" y="56.59" width="1.05" height="8.47" fill="#000"/>
<rect x="535.50" y="48.26" width="1.45" height="13.29" fill="#000"/>
<rect x="536.50" y="47.45" width="1.45" height="14.29" fill="#000"/>
<circle cx="316.70" cy="53.80" r="1.1" fill="#000"/>
<circle cx="316.70" cy="58.80" r="1.1" fill="#000"/>
<circle cx="449.50" cy="61.70" r="1.1" fill="#000"/>
<rect x="315" y="5.5" width="223" height="112.2" fill="none" stroke="#858585" stroke-width="1.25"/>
<line x1="317.50" y1="117.70" x2="317.50" y2="115.50" stroke="#858585" stroke-width="0.8"/>
<line x1="317.50" y1="5.50" x2="317.50" y2="7.70" stroke="#858585" stroke-width="0.8"/>
<line x1="376.40" y1="117.70" x2="376.40" y2="115.50" stroke="#858585" stroke-width="0.8"/>
<line x1="376.40" y1="5.50" x2="376.40" y2="7.70" stroke="#858585" stroke-width="0.8"/>
<line x1="435.30" y1="117.70" x2="435.30" y2="115.50" stroke="#858585" stroke-width="0.8"/>
<line x1="435.30" y1="5.50" x2="435.30" y2="7.70" stroke="#858585" stroke-width="0.8"/>
<line x1="494.10" y1="117.70" x2="494.10" y2="115.50" stroke="#858585" stroke-width="0.8"/>
<line x1="494.10" y1="5.50" x2="494.10" y2="7.70" stroke="#858585" stroke-width="0.8"/>
<line x1="315.00" y1="21.70" x2="317.20" y2="21.70" stroke="#858585" stroke-width="0.8"/>
<line x1="538.00" y1="21.70" x2="535.80" y2="21.70" stroke="#858585" stroke-width="0.8"/>
<line x1="315.00" y1="53.50" x2="317.20" y2="53.50" stroke="#858585" stroke-width="0.8"/>
<line x1="538.00" y1="53.50" x2="535.80" y2="53.50" stroke="#858585" stroke-width="0.8"/>
<line x1="315.00" y1="85.30" x2="317.20" y2="85.30" stroke="#858585" stroke-width="0.8"/>
<line x1="538.00" y1="85.30" x2="535.80" y2="85.30" stroke="#858585" stroke-width="0.8"/>
<text x="317.50" y="130.60" font-family="Liberation Serif" font-size="10.4" text-anchor="middle">80000</text>
<text x="376.40" y="130.60" font-family="Liberation Serif" font-size="10.4" text-anchor="middle">85000</text>
<text x="435.30" y="130.60" font-family="Liberation Serif" font-size="10.4" text-anchor="middle">90000</text>
<text x="494.10" y="130.60" font-family="Liberation Serif" font-size="10.4" text-anchor="middle">95000</text>
<text x="310.90" y="24.20" font-family="Liberation Serif" font-size="10.3" text-anchor="end">462</text>
<text x="310.90" y="56.00" font-family="Liberation Serif" font-size="10.3" text-anchor="end">460</text>
<text x="310.90" y="87.80" font-family="Liberation Serif" font-size="10.3" text-anchor="end">458</text>
<text x="310.90" y="119.80" font-family="Liberation Serif" font-size="10.3" text-anchor="end">456</text>
<text x="426.50" y="144.00" font-family="Liberation Serif" font-size="12.5" text-anchor="middle" textLength="90.4" lengthAdjust="spacingAndGlyphs">Jet Pulse Number</text>
<text x="517.60" y="20.15" font-family="Liberation Serif" font-size="13" text-anchor="middle" style="stroke-width:0.35px">(b)</text>
<text transform="translate(289.3,0) rotate(-90)" font-family="Liberation Serif" font-size="12.8" x="-89.5" y="0"><tspan font-style="italic">V</tspan><tspan font-size="7.5" dy="2">H53V</tspan></text>
<text transform="translate(289.3,0) rotate(-90)" font-family="Liberation Serif" font-size="12.8" x="-56.3" y="0" textLength="21.9" lengthAdjust="spacingAndGlyphs">[mV]</text>
<rect x="323.7" y="84.1" width="87" height="26.8" fill="#fff" stroke="#858585" stroke-width="0.9"/>
<circle cx="345.10" cy="91.50" r="1.1" fill="#8a8a8a"/>
<circle cx="345.10" cy="103.70" r="1.3" fill="#000"/>
<text x="365.90" y="95.80" font-family="Liberation Serif" font-size="11.5" text-anchor="start"><tspan font-style="italic">V</tspan><tspan font-size="7.6" dy="1.6">H</tspan></text>
<text x="365.90" y="108.20" font-family="Liberation Serif" font-size="11.5" text-anchor="start" textLength="41.2" lengthAdjust="spacingAndGlyphs"><tspan font-style="italic">V</tspan><tspan font-size="7.6" dy="1.6">H</tspan><tspan dy="-1.6"> − </tspan><tspan font-style="italic">b</tspan>Δ<tspan font-style="italic">T</tspan></text>
<line x1="60.35" y1="165.00" x2="60.35" y2="276.50" stroke="#e6e6e6" stroke-width="0.8"/>
<line x1="105.85" y1="165.00" x2="105.85" y2="276.50" stroke="#e6e6e6" stroke-width="0.8"/>
<line x1="151.35" y1="165.00" x2="151.35" y2="276.50" stroke="#e6e6e6" stroke-width="0.8"/>
<line x1="196.85" y1="165.00" x2="196.85" y2="276.50" stroke="#e6e6e6" stroke-width="0.8"/>
<line x1="242.35" y1="165.00" x2="242.35" y2="276.50" stroke="#e6e6e6" stroke-width="0.8"/>
<line x1="39.50" y1="239.33" x2="262.00" y2="239.33" stroke="#e6e6e6" stroke-width="0.8"/>
<line x1="39.50" y1="202.17" x2="262.00" y2="202.17" stroke="#e6e6e6" stroke-width="0.8"/>
<rect x="95.26" y="271.00" width="3.33" height="5.50" fill="#b3b3b3"/>
<rect x="98.54" y="269.00" width="3.33" height="7.50" fill="#b3b3b3"/>
<rect x="101.82" y="267.00" width="3.33" height="9.50" fill="#b3b3b3"/>
<rect x="105.10" y="264.50" width="3.33" height="12.00" fill="#b3b3b3"/>
<rect x="108.38" y="261.00" width="3.33" height="15.50" fill="#b3b3b3"/>
<rect x="111.66" y="256.60" width="3.33" height="19.90" fill="#b3b3b3"/>
<rect x="114.94" y="250.40" width="3.33" height="26.10" fill="#b3b3b3"/>
<rect x="118.22" y="251.80" width="3.33" height="24.70" fill="#b3b3b3"/>
<rect x="121.50" y="253.90" width="3.33" height="22.60" fill="#b3b3b3"/>
<rect x="124.78" y="255.30" width="3.33" height="21.20" fill="#b3b3b3"/>
<rect x="128.06" y="255.80" width="3.33" height="20.70" fill="#b3b3b3"/>
<rect x="131.34" y="256.90" width="3.33" height="19.60" fill="#b3b3b3"/>
<rect x="134.62" y="255.50" width="3.33" height="21.00" fill="#b3b3b3"/>
<rect x="137.90" y="257.50" width="3.33" height="19.00" fill="#b3b3b3"/>
<rect x="141.18" y="250.10" width="3.33" height="26.40" fill="#b3b3b3"/>
<rect x="144.46" y="239.90" width="3.33" height="36.60" fill="#b3b3b3"/>
<rect x="147.74" y="218.30" width="3.33" height="58.20" fill="#b3b3b3"/>
<rect x="151.02" y="184.90" width="3.33" height="91.60" fill="#b3b3b3"/>
<rect x="154.30" y="184.80" width="3.33" height="91.70" fill="#b3b3b3"/>
<rect x="157.58" y="176.30" width="3.33" height="100.20" fill="#b3b3b3"/>
<rect x="160.86" y="180.90" width="3.33" height="95.60" fill="#b3b3b3"/>
<rect x="164.14" y="185.40" width="3.33" height="91.10" fill="#b3b3b3"/>
<rect x="167.42" y="204.00" width="3.33" height="72.50" fill="#b3b3b3"/>
<rect x="170.70" y="219.40" width="3.33" height="57.10" fill="#b3b3b3"/>
<rect x="173.98" y="232.60" width="3.33" height="43.90" fill="#b3b3b3"/>
<rect x="177.26" y="239.40" width="3.33" height="37.10" fill="#b3b3b3"/>
<rect x="180.54" y="253.00" width="3.33" height="23.50" fill="#b3b3b3"/>
<rect x="183.82" y="256.40" width="3.33" height="20.10" fill="#b3b3b3"/>
<rect x="187.10" y="264.00" width="3.33" height="12.50" fill="#b3b3b3"/>
<rect x="190.38" y="268.20" width="3.33" height="8.30" fill="#b3b3b3"/>
<rect x="193.66" y="271.60" width="3.33" height="4.90" fill="#b3b3b3"/>
<rect x="196.94" y="274.20" width="3.33" height="2.30" fill="#b3b3b3"/>
<rect x="43.20" y="266.50" width="3.40" height="10.00" fill="#b3b3b3"/>
<rect x="60.20" y="265.70" width="2.90" height="10.80" fill="#b3b3b3"/>
<rect x="46.60" y="275.20" width="48.00" height="1.30" fill="#b3b3b3"/>
<rect x="91.80" y="266.00" width="1.80" height="10.50" fill="#6e6e6e"/>
<rect x="226.00" y="273.50" width="9.50" height="3.00" fill="#b3b3b3"/>
<rect x="200.00" y="275.60" width="62.00" height="0.90" fill="#b3b3b3"/>
<polygon points="81.00,276.50 81.50,274.50 84.00,273.30 86.00,274.00 88.00,273.50 90.00,274.30 93.00,274.00 94.50,275.50 110.00,276.00 125.00,275.80 129.80,275.50 137.00,274.30 140.10,271.30 143.10,264.10 146.10,252.00 149.10,240.00 150.60,227.00 153.00,204.40 155.50,194.50 156.30,192.60 157.10,194.50 158.70,204.40 161.00,227.00 162.30,240.00 164.80,258.00 166.60,267.70 169.00,273.70 170.80,275.50 178.00,276.30 178.00,276.50" fill="#000"/>
<rect x="83.90" y="264.30" width="1.00" height="12.20" fill="#000"/>
<rect x="39.5" y="165" width="222.5" height="111.5" fill="none" stroke="#858585" stroke-width="1.25"/>
<line x1="60.35" y1="276.50" x2="60.35" y2="274.30" stroke="#858585" stroke-width="0.8"/>
<line x1="60.35" y1="165.00" x2="60.35" y2="167.20" stroke="#858585" stroke-width="0.8"/>
<line x1="105.85" y1="276.50" x2="105.85" y2="274.30" stroke="#858585" stroke-width="0.8"/>
<line x1="105.85" y1="165.00" x2="105.85" y2="167.20" stroke="#858585" stroke-width="0.8"/>
<line x1="151.35" y1="276.50" x2="151.35" y2="274.30" stroke="#858585" stroke-width="0.8"/>
<line x1="151.35" y1="165.00" x2="151.35" y2="167.20" stroke="#858585" stroke-width="0.8"/>
<line x1="196.85" y1="276.50" x2="196.85" y2="274.30" stroke="#858585" stroke-width="0.8"/>
<line x1="196.85" y1="165.00" x2="196.85" y2="167.20" stroke="#858585" stroke-width="0.8"/>
<line x1="242.35" y1="276.50" x2="242.35" y2="274.30" stroke="#858585" stroke-width="0.8"/>
<line x1="242.35" y1="165.00" x2="242.35" y2="167.20" stroke="#858585" stroke-width="0.8"/>
<line x1="39.50" y1="239.33" x2="41.70" y2="239.33" stroke="#858585" stroke-width="0.8"/>
<line x1="262.00" y1="239.33" x2="259.80" y2="239.33" stroke="#858585" stroke-width="0.8"/>
<line x1="39.50" y1="202.17" x2="41.70" y2="202.17" stroke="#858585" stroke-width="0.8"/>
<line x1="262.00" y1="202.17" x2="259.80" y2="202.17" stroke="#858585" stroke-width="0.8"/>
<text x="60.35" y="289.20" font-family="Liberation Serif" font-size="10.4" text-anchor="middle">0.996</text>
<text x="105.85" y="289.20" font-family="Liberation Serif" font-size="10.4" text-anchor="middle">0.998</text>
<text x="151.35" y="289.20" font-family="Liberation Serif" font-size="10.4" text-anchor="middle">1</text>
<text x="196.85" y="289.20" font-family="Liberation Serif" font-size="10.4" text-anchor="middle">1.002</text>
<text x="242.35" y="289.20" font-family="Liberation Serif" font-size="10.4" text-anchor="middle">1.004</text>
<text x="35.90" y="279.00" font-family="Liberation Serif" font-size="10.3" text-anchor="end">0</text>
<text x="35.90" y="241.83" font-family="Liberation Serif" font-size="10.3" text-anchor="end">500</text>
<text x="35.90" y="204.67" font-family="Liberation Serif" font-size="10.3" text-anchor="end">1000</text>
<text x="35.90" y="167.50" font-family="Liberation Serif" font-size="10.3" text-anchor="end">1500</text>
<text x="241.30" y="178.95" font-family="Liberation Serif" font-size="13" text-anchor="middle" style="stroke-width:0.35px">(c)</text>
<text transform="translate(8.8,219.1) rotate(-90)" font-family="Liberation Serif" font-size="13" text-anchor="middle" textLength="28.6" lengthAdjust="spacingAndGlyphs">count</text>
<text x="150.40" y="302.00" font-family="Liberation Serif" font-size="12.5" text-anchor="middle" textLength="59.5" lengthAdjust="spacingAndGlyphs"><tspan font-style="italic">V</tspan><tspan font-size="7.5" dy="1.8">H53V</tspan><tspan dy="-1.8">/</tspan><tspan font-style="italic">V̄</tspan><tspan font-size="7.5" dy="1.8">H53V</tspan></text>
<rect x="47.8" y="171.3" width="87.2" height="26.7" fill="#fff" stroke="#858585" stroke-width="0.9"/>
<rect x="51.50" y="175.00" width="35.10" height="7.80" fill="#b3b3b3"/>
<rect x="51.50" y="186.90" width="35.10" height="7.30" fill="#000"/>
<text x="89.60" y="181.60" font-family="Liberation Serif" font-size="11.5" text-anchor="start"><tspan font-style="italic">V</tspan><tspan font-size="7.6" dy="1.6">H</tspan></text>
<text x="89.60" y="194.30" font-family="Liberation Serif" font-size="11.5" text-anchor="start" textLength="41.2" lengthAdjust="spacingAndGlyphs"><tspan font-style="italic">V</tspan><tspan font-size="7.6" dy="1.6">H</tspan><tspan dy="-1.6"> − </tspan><tspan font-style="italic">b</tspan>Δ<tspan font-style="italic">T</tspan></text>
<line x1="335.25" y1="165.00" x2="335.25" y2="276.30" stroke="#e6e6e6" stroke-width="0.8"/>
<line x1="380.85" y1="165.00" x2="380.85" y2="276.30" stroke="#e6e6e6" stroke-width="0.8"/>
<line x1="426.45" y1="165.00" x2="426.45" y2="276.30" stroke="#e6e6e6" stroke-width="0.8"/>
<line x1="472.05" y1="165.00" x2="472.05" y2="276.30" stroke="#e6e6e6" stroke-width="0.8"/>
<line x1="517.65" y1="165.00" x2="517.65" y2="276.30" stroke="#e6e6e6" stroke-width="0.8"/>
<line x1="315.00" y1="235.00" x2="537.50" y2="235.00" stroke="#e6e6e6" stroke-width="0.8"/>
<line x1="315.00" y1="193.70" x2="537.50" y2="193.70" stroke="#e6e6e6" stroke-width="0.8"/>
<rect x="367.18" y="273.30" width="3.98" height="3.00" fill="#b3b3b3"/>
<rect x="371.11" y="271.60" width="3.98" height="4.70" fill="#b3b3b3"/>
<rect x="375.04" y="270.00" width="3.98" height="6.30" fill="#b3b3b3"/>
<rect x="378.96" y="267.40" width="3.98" height="8.90" fill="#b3b3b3"/>
<rect x="382.89" y="265.00" width="3.98" height="11.30" fill="#b3b3b3"/>
<rect x="386.81" y="262.70" width="3.98" height="13.60" fill="#b3b3b3"/>
<rect x="390.74" y="259.90" width="3.98" height="16.40" fill="#b3b3b3"/>
<rect x="394.67" y="257.00" width="3.98" height="19.30" fill="#b3b3b3"/>
<rect x="398.59" y="255.30" width="3.98" height="21.00" fill="#b3b3b3"/>
<rect x="402.52" y="253.60" width="3.98" height="22.70" fill="#b3b3b3"/>
<rect x="406.44" y="249.70" width="3.98" height="26.60" fill="#b3b3b3"/>
<rect x="410.37" y="245.80" width="3.98" height="30.50" fill="#b3b3b3"/>
<rect x="414.30" y="240.90" width="3.98" height="35.40" fill="#b3b3b3"/>
<rect x="418.22" y="227.10" width="3.98" height="49.20" fill="#b3b3b3"/>
<rect x="422.15" y="206.60" width="3.98" height="69.70" fill="#b3b3b3"/>
<rect x="426.07" y="185.80" width="3.98" height="90.50" fill="#b3b3b3"/>
<rect x="430.00" y="169.70" width="3.98" height="106.60" fill="#b3b3b3"/>
<rect x="433.93" y="171.10" width="3.98" height="105.20" fill="#b3b3b3"/>
<rect x="437.85" y="180.70" width="3.98" height="95.60" fill="#b3b3b3"/>
<rect x="441.78" y="198.60" width="3.98" height="77.70" fill="#b3b3b3"/>
<rect x="445.70" y="216.80" width="3.98" height="59.50" fill="#b3b3b3"/>
<rect x="449.63" y="234.00" width="3.98" height="42.30" fill="#b3b3b3"/>
<rect x="453.56" y="246.40" width="3.98" height="29.90" fill="#b3b3b3"/>
<rect x="457.48" y="257.00" width="3.98" height="19.30" fill="#b3b3b3"/>
<rect x="461.41" y="265.70" width="3.98" height="10.60" fill="#b3b3b3"/>
<rect x="465.33" y="270.20" width="3.98" height="6.10" fill="#b3b3b3"/>
<rect x="469.26" y="272.70" width="3.98" height="3.60" fill="#b3b3b3"/>
<rect x="473.19" y="274.20" width="3.98" height="2.10" fill="#b3b3b3"/>
<rect x="318.30" y="274.10" width="4.20" height="2.20" fill="#b3b3b3"/>
<rect x="338.30" y="272.00" width="10.00" height="4.30" fill="#b3b3b3"/>
<rect x="315.50" y="274.60" width="55.00" height="1.70" fill="#b3b3b3"/>
<rect x="475.00" y="275.40" width="25.00" height="0.90" fill="#b3b3b3"/>
<polygon points="346.00,276.30 350.00,274.00 355.00,273.00 359.00,271.60 362.00,273.00 366.00,273.50 370.00,274.50 380.00,275.80 395.00,275.30 402.00,274.50 408.00,273.60 411.00,271.50 414.10,267.50 418.60,255.40 421.80,235.20 424.00,228.90 425.10,220.70 426.40,209.30 428.00,199.50 429.30,189.80 430.50,185.70 431.20,186.50 432.10,189.80 433.20,199.50 435.40,209.30 436.50,220.70 437.80,228.90 438.50,235.20 441.40,255.40 445.50,267.50 449.00,271.50 452.50,273.60 460.00,275.50 470.00,276.30" fill="#000"/>
<rect x="315" y="165" width="222.5" height="111.30000000000001" fill="none" stroke="#858585" stroke-width="1.25"/>
<line x1="335.25" y1="276.30" x2="335.25" y2="274.10" stroke="#858585" stroke-width="0.8"/>
<line x1="335.25" y1="165.00" x2="335.25" y2="167.20" stroke="#858585" stroke-width="0.8"/>
<line x1="380.85" y1="276.30" x2="380.85" y2="274.10" stroke="#858585" stroke-width="0.8"/>
<line x1="380.85" y1="165.00" x2="380.85" y2="167.20" stroke="#858585" stroke-width="0.8"/>
<line x1="426.45" y1="276.30" x2="426.45" y2="274.10" stroke="#858585" stroke-width="0.8"/>
<line x1="426.45" y1="165.00" x2="426.45" y2="167.20" stroke="#858585" stroke-width="0.8"/>
<line x1="472.05" y1="276.30" x2="472.05" y2="274.10" stroke="#858585" stroke-width="0.8"/>
<line x1="472.05" y1="165.00" x2="472.05" y2="167.20" stroke="#858585" stroke-width="0.8"/>
<line x1="517.65" y1="276.30" x2="517.65" y2="274.10" stroke="#858585" stroke-width="0.8"/>
<line x1="517.65" y1="165.00" x2="517.65" y2="167.20" stroke="#858585" stroke-width="0.8"/>
<line x1="315.00" y1="235.00" x2="317.20" y2="235.00" stroke="#858585" stroke-width="0.8"/>
<line x1="537.50" y1="235.00" x2="535.30" y2="235.00" stroke="#858585" stroke-width="0.8"/>
<line x1="315.00" y1="193.70" x2="317.20" y2="193.70" stroke="#858585" stroke-width="0.8"/>
<line x1="537.50" y1="193.70" x2="535.30" y2="193.70" stroke="#858585" stroke-width="0.8"/>
<text x="335.25" y="289.20" font-family="Liberation Serif" font-size="10.4" text-anchor="middle">0.996</text>
<text x="380.85" y="289.20" font-family="Liberation Serif" font-size="10.4" text-anchor="middle">0.998</text>
<text x="426.45" y="289.20" font-family="Liberation Serif" font-size="10.4" text-anchor="middle">1</text>
<text x="472.05" y="289.20" font-family="Liberation Serif" font-size="10.4" text-anchor="middle">1.002</text>
<text x="517.65" y="289.20" font-family="Liberation Serif" font-size="10.4" text-anchor="middle">1.004</text>
<text x="310.90" y="278.80" font-family="Liberation Serif" font-size="10.3" text-anchor="end">0</text>
<text x="310.90" y="237.50" font-family="Liberation Serif" font-size="10.3" text-anchor="end">1</text>
<text x="310.90" y="196.20" font-family="Liberation Serif" font-size="10.3" text-anchor="end">2</text>
<text x="325.90" y="160.80" font-family="Liberation Serif" font-size="10.8" text-anchor="middle">×10<tspan font-size="7" dy="-4.3">4</tspan></text>
<text x="517.40" y="178.95" font-family="Liberation Serif" font-size="13" text-anchor="middle" style="stroke-width:0.35px">(d)</text>
<text transform="translate(299.5,220) rotate(-90)" font-family="Liberation Serif" font-size="13" text-anchor="middle" textLength="26.8" lengthAdjust="spacingAndGlyphs">count</text>
<text x="427.00" y="301.50" font-family="Liberation Serif" font-size="12.5" text-anchor="middle" textLength="129.5" lengthAdjust="spacingAndGlyphs"><tspan font-style="italic">V</tspan><tspan font-size="7.5" dy="1.8">H</tspan><tspan dy="-1.8">/</tspan><tspan font-style="italic">V̄</tspan><tspan font-size="7.5" dy="1.8">H</tspan><tspan dy="-1.8"> (whole signals set)</tspan></text>
<rect x="323.7" y="171.3" width="87.3" height="26.7" fill="#fff" stroke="#858585" stroke-width="0.9"/>
<rect x="327.40" y="175.00" width="35.10" height="7.80" fill="#b3b3b3"/>
<rect x="327.40" y="186.90" width="35.10" height="7.30" fill="#000"/>
<text x="365.50" y="181.60" font-family="Liberation Serif" font-size="11.5" text-anchor="start"><tspan font-style="italic">V</tspan><tspan font-size="7.6" dy="1.6">H</tspan></text>
<text x="365.50" y="194.30" font-family="Liberation Serif" font-size="11.5" text-anchor="start" textLength="41.2" lengthAdjust="spacingAndGlyphs"><tspan font-style="italic">V</tspan><tspan font-size="7.6" dy="1.6">H</tspan><tspan dy="-1.6"> − </tspan><tspan font-style="italic">b</tspan>Δ<tspan font-style="italic">T</tspan></text>
</svg></body></html>
